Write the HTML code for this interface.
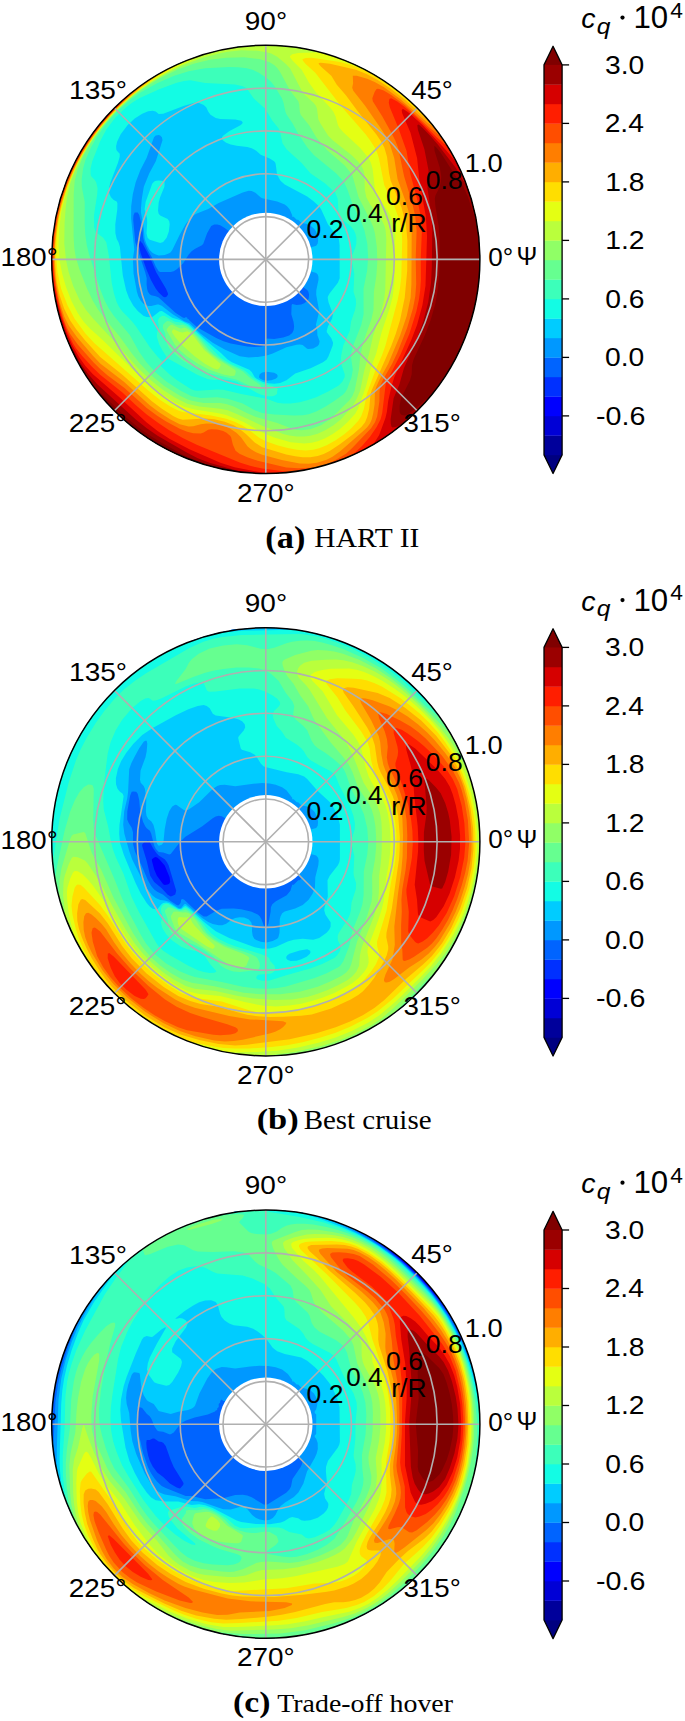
<!DOCTYPE html>
<html><head><meta charset="utf-8"><style>html,body{margin:0;padding:0;background:#fff;}svg{display:block;}</style></head>
<body><svg width="685" height="1721" viewBox="0 0 685 1721">
<rect width="685" height="1721" fill="#fff"/>
<clipPath id="cl0"><circle cx="265.8" cy="259.4" r="214.1"/></clipPath>
<g clip-path="url(#cl0)">
<circle cx="265.8" cy="259.4" r="216.1" fill="#0030ff"/>
<path fill="#0064ff" d="M47.7,41.3 482.7,41.3 482.7,476.3 47.7,476.3ZM139.2,240.8 138.8,245.3 140.7,253.3 146.7,270 151.2,280.4 155.7,288.6 158.7,292.5 163.2,296.7 164.7,297.3 166.2,297 168,294.8 167.9,293.3 166,288.8 156.2,272.3 149.9,257.3 142.2,243.1 141.1,242.3 140.7,241.2Z"/>
<path fill="#0098ff" d="M47.7,41.3 482.7,41.3 482.7,476.3 47.7,476.3ZM134.7,212.4 133.5,215.3 133.2,219.8 135.3,242.3 145.2,272.3 146.7,278.3 146.6,284.3 147.1,288.8 147.9,291.8 149.7,294.3 151.2,295.2 155.7,296.2 158.7,297.6 175.4,312.8 182.7,317.6 184.2,318.1 185.7,317.3 187.2,317.5 187.4,318.8 188.7,319.2 189.2,320.3 196.2,326.4 200.6,329.3 216.7,338.3 223.5,341.3 230.7,343.6 247.2,346.6 254.7,347.1 260.7,346.7 265,345.8 265.8,344.3 265.9,339.8 266.7,338.6 274.2,339 283.2,337.6 289.2,335.6 292.2,333.1 293.7,330 294.1,326.3 293.5,321.8 291.3,314.3 291.6,305.3 292.2,304 296.7,304.9 301.2,304.5 304.2,303.2 307.2,301.1 308.7,298.4 309.1,294.8 308.4,291.8 307.2,290.1 269.7,262.5 266.7,259.7 265.2,259.5 260.7,255.3 224.7,227.9 220.2,225.2 217.2,224.4 214.2,224.5 211.2,226.1 207.1,233.3 203.3,243.8 201.9,245.3 194.7,249 191.6,251.3 188.7,254.5 183.2,263.3 176.8,269.3 173.7,271.3 170.7,272.1 160.2,272.1 158.7,271.2 155.7,266.6 151.8,257.3 147.6,249.8 144.3,242.3 143.2,237.8 142.3,227.3 139.2,215 137.7,212.6Z"/>
<path fill="#00ccff" d="M47.7,41.3 482.7,41.3 482.7,476.3 47.7,476.3ZM155.7,135.6 154,137.3 146.7,157.7 140.3,170.3 135.7,182.3 132.8,194.3 131.2,206.3 131.1,218.3 134.3,249.8 132.9,258.8 133.6,273.8 136.9,291.8 138.3,296.3 140.8,300.8 143.7,303.9 148.2,306 151.2,306 157.2,304.5 158.7,304.6 161.7,305.7 172.7,314.3 184.2,321.3 189.5,323.3 200.7,333.7 212.7,342.7 224.7,349.6 239.7,356.2 248.7,357.4 257.7,356.9 266.7,355.6 272.7,353.6 286.4,347.3 296.7,344.8 299.7,344.5 302.7,345 307.1,348.8 308.7,349.1 313.2,348.4 317.7,346 319,344.3 319.6,341.3 317.4,335.3 317.2,330.8 315.9,324.8 319.2,311.3 316.2,294.8 316.3,290.3 318.5,279.8 318.4,276.8 317.7,274.6 316.2,273.1 314.7,272.5 271.2,261 269.2,260.3 268,258.8 268.2,258.2 273.7,257.3 314.7,246.3 316.2,245.7 317.7,243.4 318.1,240.8 317.8,236.3 316.2,231.8 314.2,228.8 310.2,225.4 307.2,224 301.2,222.8 298.2,219.8 296.7,219.8 293.7,216.8 292.2,216.8 292.2,215.3 289.6,209.3 287,206.3 284.7,204.6 277.2,201.6 262.2,198.2 260.5,197.3 255.4,192.8 251.7,191 248.7,190.7 242.7,192.4 218.7,203.1 208.2,209 196.2,213.8 191.7,216.5 185.6,224.3 179.7,234.8 172.4,249.8 170.7,252.2 169.2,253.3 164.7,254.9 158.7,255.4 155.7,254.5 152.7,252.9 149.7,249.9 146.7,244.6 144.8,239.3 143.4,225.8 140.9,212.3 141,207.8 141.8,198.8 143.8,186.8 149.3,173.3 155.8,161.3 162.5,140.3 161.9,137.3 160.2,135.6 158.7,135.1ZM262.2,372.4 259.7,374.3 259,377.3 260.3,378.8 263.4,380.3 266.7,380.7 271.3,380.3 275.6,378.8 277.4,377.3 277.7,375.8 276.9,374.3 274.2,372.8 266.7,371.8Z"/>
<path fill="#13fce4" d="M47.7,41.3 482.7,41.3 482.7,476.3 47.7,476.3ZM194.7,102.7 184.2,105.7 163.2,113.8 158.7,114.1 155.7,111.5 152.7,110.7 148.2,111.3 142.2,113.7 134.7,118.6 127.5,125.3 120.7,134.3 117.1,141.8 116.1,146.3 116.3,149.3 116.9,150.8 119.7,153.7 119.7,156.8 118,162.8 110.5,182.3 109.2,187.2 108.9,191.3 109.6,194.3 111,197.3 113.7,200.1 116.7,201.5 117.4,203.3 117.3,209.3 115.3,224.3 115.4,233.3 116.7,238.9 118.5,242.3 119.9,246.8 122.8,275.3 126.1,290.3 128.9,297.8 133.2,305.5 138,311.3 143.7,315.9 146.7,317.1 151.2,317.3 152.7,316.7 159.7,311.3 161.7,311.1 163.2,311.7 172.2,317.8 179.7,320 188.7,324.5 205.2,339.7 221.2,353.3 227.3,359.3 231.9,362.3 249.3,369.8 251.7,372 254.8,377.3 256.7,378.8 262.5,381.8 268.2,383.2 274.2,383.8 280.2,382.9 286.5,380.3 295.2,373.5 310.6,368.3 323,362.3 326.7,359.6 328.5,356.3 332.6,345.8 333.1,342.8 331.3,338.3 326.8,332.3 326.7,330.8 328,326.3 332,318.8 333,314.3 328.5,302.3 327.7,297.8 328,296.3 329.7,293.3 337.9,282.8 339.7,278.3 339.6,245.3 338.9,239.3 337.3,236.3 327.9,224.3 321.1,209.3 319,206.3 313.2,201 307.2,196.6 284.7,184.5 280.5,180.8 277.1,174.8 275.7,164.3 275.3,162.8 274.1,161.3 269.7,158.6 260.7,154.8 256.2,150.7 251.7,148.3 247.2,147.1 236.7,145.8 230.7,144.5 226.2,142.8 222.8,140.3 221.9,138.8 222,137.3 223.1,135.8 229.1,131.3 240.4,125.3 242.2,123.8 242.7,122.3 241.2,120.8 235.2,119.4 220.2,119 215.7,118.1 210.5,114.8 208.3,111.8 206.2,107.3 203.7,105 199.2,103ZM156,180.8 158.7,180.5 163.2,180.9 164.6,182.3 164.4,186.8 160.1,197.3 158.7,202.4 158,210.8 158.7,213.8 160.2,215.6 167.7,218.9 169.2,221.3 169.7,224.3 168.8,231.8 166.6,237.8 163.2,242 160.2,243 149.7,239.8 147.6,237.8 146.5,233.3 147.2,222.8 147,218.3 144.6,209.3 145.7,201.8 152.2,183.8 154.2,181.6Z"/>
<path fill="#3cffba" d="M47.7,41.3 482.7,41.3 482.7,476.3 47.7,476.3ZM190.2,80.3 184.2,80.9 176.7,82.7 159.2,89.3 139.3,98.3 132.1,102.8 126.1,107.3 115.2,117.8 106.2,129.8 100.2,141.3 92.3,161.3 90.5,168.8 90.7,174.8 91.2,176.2 94.2,179.3 96.2,182.3 97.6,188.3 97.2,194.3 94,215.3 94.2,227.3 95.7,232.1 103.2,237.7 106.3,242.3 108.9,255.8 111.7,282.8 113.9,293.3 116.7,302.3 119,306.8 122.2,311.3 131.7,321.1 135.9,326.3 149.7,347.1 157.2,356.3 163.2,362.3 160.2,365.2 161.5,366.8 169.3,374.3 176.7,380.1 191.1,389.3 194.7,390.5 197.7,390.7 217.2,389.4 223.2,389.8 241.2,394 266.7,398.8 277.2,402.7 283.2,403.6 290.7,403.6 299.7,402.3 307.2,400.3 316.2,397.2 328.2,391.6 338.7,385.4 342.3,381.8 344.6,377.3 344.7,374.3 340.6,362.3 341.3,354.8 343.2,345.8 349.8,330.8 351,321.8 355.1,309.8 356.1,303.8 355.8,299.3 353.5,291.8 354.3,273.8 351.5,258.8 352.2,255.2 355.1,248.3 356.3,243.8 356.4,237.8 355.3,233.3 353.7,230.1 350.7,226.2 342.7,219.8 340.1,216.8 338.5,212.3 337.7,198.8 335.2,192.8 325.2,183.5 310.4,173.3 301.4,162.8 286.5,149.3 282.5,143.3 279.9,131.3 278.5,128.3 272.4,120.8 265.2,108.8 253.6,98.3 247.2,89.1 245.8,87.8 242.7,86.3 235.2,84.5 205.2,82.9ZM162.6,315.8 164.7,316 174.8,321.8 181.2,322.4 187.2,325.1 194,330.8 220.6,357.8 230.4,363.8 243.6,369.8 247.2,372.4 252.3,377.3 257.7,380.9 263.7,383.7 273,386.3 276.3,387.8 278.1,389.3 277.2,390.8 277.1,393.8 275.3,395.3 272.7,396.2 266.7,396.2 260.7,394.6 257.7,393.3 236.7,381.7 230.6,380.3 221.7,379.2 214.2,380.1 208.2,379.3 197.7,374.9 166.6,357.8 166.2,356.3 162.3,350.3 159.1,344.3 156.8,336.8 157.1,332.3 158.9,327.8 157.9,320.3 159.6,317.3Z"/>
<path fill="#66ff90" d="M47.7,41.3 482.7,41.3 482.7,476.3 47.7,476.3ZM205.2,68.2 188.7,71.3 174.2,75.8 157.1,83.3 141,92.3 130.2,99.9 116.7,111.8 106.2,123.8 97.2,136.5 91.2,147 85.5,159.8 83.1,168.8 81.7,179.3 81.8,186.8 84.7,201.8 84.7,224.3 85.3,234.8 86.8,245.3 89,254.3 100.6,290.3 104.8,300.8 108.7,308.3 113.8,315.8 130,335.3 139.1,351.8 146.4,362.3 155.7,372.6 166.7,381.8 180.7,390.8 191.7,396.2 200.7,398 217.2,397.3 227.7,398.7 242.7,403.6 254.8,410.3 262.2,413 274.2,414.4 293.7,415.5 302.7,415.3 308.7,414.2 316.2,411.4 325.2,406.8 334.2,401.1 343.2,394.4 345.2,392.3 347,389.3 351.5,377.3 352.8,369.8 351.1,357.8 351.4,351.8 353.1,345.8 361.3,324.8 363.6,314.3 363.5,288.8 367.1,270.8 368.1,257.3 367.3,243.8 364.4,230.3 359.8,218.3 352.7,204.8 347.5,189.8 344.7,183.6 341.6,179.3 336,173.3 314.1,155.3 307.5,147.8 298.4,134.3 292.8,123.8 286.7,114.8 285.4,111.8 283.5,102.8 281.9,98.3 274.6,86.3 271,81.8 266.7,78 258.8,72.8 253.2,70.1 246.8,68.3 238.2,67.2 229.2,66.9ZM165.9,321.8 167.7,321.1 169.2,321.2 176.7,324.9 179.7,325.3 182.7,324.8 185.7,325.9 188.7,327.8 199.6,338.3 209.3,350.3 214,354.8 224.9,362.3 242.8,371.3 250.2,377.9 260.1,384.8 261.3,386.3 260.7,388.8 259.1,389.3 253.7,387.8 236.7,379.7 209.7,373.2 202.2,370.9 190.5,365.3 181.2,359.4 172.2,351.6 169.2,347.9 167.2,344.3 166.2,341.3 165.3,333.8 162.8,327.8 163.1,324.8Z"/>
<path fill="#90ff66" d="M47.7,41.3 482.7,41.3 482.7,476.3 47.7,476.3ZM226.2,57.7 209.7,59.8 193.5,63.8 177.3,69.8 158.7,78.9 142.1,89.3 128.5,99.8 113.7,113.9 100.2,129.6 89.7,144.7 83.7,155.3 77.7,169.4 74.7,180.7 73.7,194.3 73.6,236.3 74.3,248.3 75.8,257.3 79.4,269.3 87.1,288.8 92.8,300.8 98.2,309.8 104.9,318.8 119.8,336.8 131.7,353.3 140.1,363.8 151.7,375.8 164.6,386.3 179.1,395.3 187.2,399.2 191.7,400.7 203.7,402.9 220.2,403.1 226.2,404 233.7,406.5 247.3,413.3 256.2,417.1 277.2,423 292.2,428.8 296.1,429.8 301.2,430.2 310.2,429.3 321,425.3 330.2,419.3 349.2,400.6 352.2,396.4 354.6,390.8 358.9,369.8 360.3,356.3 362.1,347.3 364.6,338.3 371.6,318.8 373.5,309.8 373.9,291.8 376.4,275.3 377.3,261.8 376.8,246.8 374.9,233.3 373.3,227.3 370.8,221.3 358.6,197.3 352.2,174.8 345,165.8 326.7,149.7 316.2,137.3 309.1,125.3 300.7,114.8 299.8,111.8 299.2,104.3 298.3,101.3 290.2,90.8 280.5,72.8 277.5,68.3 274.5,65.3 269.7,62.3 259.2,59.1 244.2,57.3ZM168.9,326.3 170.7,325 172.2,324.8 179.7,328.2 181.2,328.4 184.2,327.6 185.7,327.9 190.2,330.6 196.4,336.8 205.6,348.8 210.2,353.3 218.7,359.8 234.9,369.8 235.8,371.3 235.3,374.3 234.4,375.8 230.7,376.1 223.2,374.5 208.2,369.3 197.9,363.8 186.8,356.3 178.1,348.8 174.5,344.3 166.8,330.8 166.7,329.3Z"/>
<path fill="#baff3c" d="M47.7,41.3 482.7,41.3 482.7,476.3 47.7,476.3ZM241.2,50.3 227.7,51.8 220.2,53.2 203,57.8 182.9,65.3 164.7,74.2 149.6,83.3 133.1,95.3 116.7,110.1 103.2,125 92.7,139.1 83.7,153.6 74.7,171.6 70.2,183.7 67.1,197.3 65.7,207.8 64.6,222.8 64.3,243.8 66.1,260.3 68.7,272.3 73.2,286.1 79.2,299.3 85.8,309.8 93.3,318.8 113.7,340.8 138.1,368.3 150.8,380.3 163.2,390.1 175.2,397.8 187.2,403.7 199.2,406.6 220.2,408.7 227.7,410.3 236.7,413.9 262.2,425.7 283.2,433.9 289.2,435.4 296.7,436.5 304.2,436.5 310.2,435.8 317.7,433.7 325.2,430.3 333.5,425.3 341,419.3 352.2,406.7 356.7,398.8 360.1,390.8 364.1,371.3 369.2,353.3 373.2,335.3 381.4,311.3 384.2,299.3 385.2,290.3 385.5,279.8 386.3,239.3 385.6,230.3 384.5,225.8 382.2,220.9 370.2,204.4 366.3,197.3 364.8,189.8 364.5,174.8 363.5,170.3 361.4,165.8 357.7,161.3 351.7,155.3 332.7,140.3 328.2,135.7 320.6,123.8 318.3,119.3 317,108.8 315.9,105.8 313.5,102.8 305.2,95.3 302.5,92.3 290,68.3 285.6,63.8 277.2,56.8 271.2,53.4 266.7,52.2 257.7,50.7ZM173.7,329.3 179.7,331.9 182.7,332.6 187.2,331.2 190.2,332.8 194.1,336.8 204.5,350.3 220.5,363.8 220.7,365.3 219.3,368.3 217.2,369.4 213.1,368.3 204.9,363.8 194.6,356.3 181.2,344.3 175.2,337.3 171.9,332.3 172.1,330.8Z"/>
<path fill="#e4ff13" d="M47.7,41.3 207.4,41.3 210.2,51.8 208.9,53.3 206.7,53.7 205.1,54.8 202.2,55.6 187.2,61.9 169.2,70.7 151.2,81.4 136.2,92.2 122.2,104.3 108.9,117.8 95.7,134.1 86.7,147.6 77.7,163.8 70.2,180.9 65.7,194.1 61.2,212.3 59.2,228.8 58.5,245.3 59.7,261.2 62.2,273.8 66.1,287.3 71.7,301.5 77.7,313.1 83.7,321.7 89.7,328.3 103.2,340.4 136.1,372.8 151.2,386 161.7,394.1 173.7,401.7 184.2,406.8 194.7,409.5 217.2,413 226.2,415 244.2,422.2 263.7,433.3 274.2,437.6 290.7,442.2 304.2,443.5 311.7,442.8 317.7,441.2 325.2,438.2 332.7,434.1 340.2,428.7 347.7,421.9 355.2,413.7 358,408.8 366,386.3 370.7,368.3 376.3,353.3 381.6,332.3 389.6,308.3 392.7,296.4 394.5,281.3 394.3,258.8 395.3,236.3 394.3,227.3 391.2,217.8 387.6,210.8 378.4,197.3 375.9,192.8 374.8,188.3 372.6,168.8 370.9,162.8 368.7,158.3 360,147.8 343.8,132.8 339.7,128.3 338,125.3 335.5,116.3 333.4,111.8 329.9,107.3 315.8,92.3 308.7,82.3 301.7,69.8 292.7,60.8 290.3,57.8 289.9,56.3 292.2,54.3 298.2,52.9 320.7,52.2 321.4,51.8 324.2,41.3 482.7,41.3 482.7,476.3 47.7,476.3Z"/>
<path fill="#ffde00" d="M47.7,41.3 168.4,41.3 178.3,63.8 176.6,65.3 157.2,76.6 142.2,87.1 125.7,100.6 110.7,115.3 98.5,129.8 88,144.8 77.7,162.8 70.2,179.5 64.2,196.9 59.6,215.3 56.7,235 56.2,257.3 57.5,272.3 61.2,289.1 67.5,305.3 74.6,318.8 85.2,333.3 94.2,342.9 148.2,390.6 160.2,399.9 170.7,406.7 178.2,410.5 182.7,412 211.2,415.5 226.2,418.8 235.2,422.1 242.7,425.8 246.7,428.3 259.2,437.8 265.2,441.1 277.2,445.3 287.7,448.1 296.7,449.7 305.7,450.4 313.2,449.8 319.2,448.2 326.7,445.2 335.7,440.3 344.3,434.3 351.3,428.3 358.3,420.8 361.2,416.2 363.9,408.8 366.9,393.8 375.1,371.3 382.2,354.8 385.4,345.8 397.5,300.8 399.9,288.8 401.3,276.8 402.2,240.8 401.6,230.3 399.2,219.8 394.2,205.7 384.3,185.3 378.9,158.3 377,152.3 374.9,147.8 370.2,140.4 365.6,134.3 340.8,105.8 315.3,72.8 305.4,63.8 303,60.8 302.4,59.3 305.7,57.9 311.7,57.8 340.2,61.9 350.7,64.9 368.7,71.8 370,72.8 373.2,73.3 391.7,41.3 482.7,41.3 482.7,476.3 47.7,476.3Z"/>
<path fill="#ffae00" d="M47.7,41.3 139.9,41.3 158.1,72.8 158.3,74.3 157.2,74.7 154.5,77.3 139.2,88.7 127.2,98.7 115,110.3 102.8,123.8 92.6,137.3 82.1,153.8 74.3,168.8 66.9,186.8 61.1,206.3 57.9,221.3 55.2,244.9 55,261.8 56.7,281.5 59.7,295.6 64.2,308.8 70.2,320.6 76.2,329.3 85.2,340.6 100.2,356.9 122.7,374.9 151.9,401.3 161.9,408.8 173.6,416.3 178.2,418.6 182.7,419.7 205.2,418.4 214.2,419.3 224.7,421.7 233.7,425.3 238.7,428.3 246.2,434.3 254.7,442.6 262.2,447.2 286.2,454.4 295.2,456.3 302.7,457.2 310.2,457.2 317.7,456.1 323.7,454.1 329.7,451.1 340.2,444.1 353.1,434.3 361.6,426.8 365.1,422.3 367.2,417.1 369.2,408.8 370.4,395.3 371.5,390.8 391.2,346 395.7,334 400,320.3 404.7,297.7 407.2,270.8 407.4,240.8 406,224.3 401.6,207.8 390.7,180.8 389.1,173.3 387,156.8 384.4,147.8 381.3,141.8 376.2,134.2 358.1,111.8 345.9,95.3 336.8,84.8 331.3,75.8 321.1,66.8 318.5,63.8 319.2,63 320.7,62.7 330,63.8 356,69.8 367.1,74.3 377.7,80.1 391.2,89 404.7,99.6 421.2,114.2 424.2,116.4 425.7,116.5 482.7,65.7 482.7,476.3 47.7,476.3Z"/>
<path fill="#ff7e00" d="M47.7,41.3 120.1,41.3 146.1,80.3 146.5,81.8 131.7,94.3 116.7,108.1 104.9,120.8 95.3,132.8 86.1,146.3 76.8,162.8 69.9,177.8 63.9,194.3 59.4,210.8 56.1,228.8 54.6,245.3 54.4,263.3 55.1,275.3 56.5,285.8 59.7,302.2 64.2,316.4 68.7,325.6 76.7,336.8 92.7,355.6 100.2,363.5 124.2,382.1 149.7,405.2 158.7,411.9 170,419.3 179.7,424.2 188.7,426.5 193.2,426.3 200.7,424.2 206.7,423.4 215.7,423.8 223.2,425.4 229.2,428 236.4,432.8 241,437.3 247.4,446.3 250.9,449.3 256,452.3 262.2,454.7 281.7,460.1 299.7,463.6 308.7,463.8 317,462.8 326.6,459.8 332.5,456.8 340.2,451.3 362.7,431.6 367.2,427.2 369.8,423.8 371.8,419.3 373.2,413.2 374.6,404.3 374.9,392.3 375.9,387.8 379.2,380.3 388.2,363.8 400.2,335.2 406.8,315.8 410.6,297.8 411.4,284.3 411.7,233.3 410.9,222.8 408.8,212.3 405.7,201.8 397.6,179.3 394.2,158 390,144.8 386.4,137.3 380.7,128.2 365.1,105.8 353.3,90.8 352.2,87.8 353.1,83.3 352.8,75.8 356.7,75.8 367.2,78.8 374.7,82 383.7,87.1 400.2,98.9 427.2,122.6 433.2,126.7 482.7,87.9 482.7,476.3 47.7,476.3Z"/>
<path fill="#ff4e00" d="M47.7,41.3 104,41.3 137.7,86.7 137.8,87.8 121.2,103.2 109.7,114.8 99.4,126.8 90.5,138.8 80.3,155.3 72.6,170.3 66.4,185.3 60.6,203.3 57.5,216.8 54.6,236.3 53.6,255.8 54.2,272.3 56.4,290.3 59.7,305.7 64.2,320.7 67.2,328.3 70.2,334.1 77.7,344.6 93.4,362.3 100.2,369.1 107.7,375.4 124.2,387.8 146.7,407.9 157.2,415.7 166.2,421.6 179.7,428.8 187.2,431.7 193.2,433.3 200.7,433.5 203.7,432.5 208.1,429.8 211.2,429.2 217.2,429.4 223.2,431.1 226.5,432.8 230.1,435.8 231.1,437.3 232.9,444.8 235.6,450.8 239.5,453.8 247.2,457.2 257.7,460.7 286.2,467.5 298.2,468.3 320.7,467.3 322.2,466.5 322.3,465.8 325.2,465.3 326,464.3 328.2,463.7 337.2,459.1 346,453.8 352.2,448.1 371.1,428.3 375,422.3 377.2,416.3 379.4,401.3 379.6,390.8 380.7,384.8 382.7,380.3 392.1,363.8 397.2,353.1 407.2,327.8 413,308.3 415.3,296.3 416.2,284.3 415.7,258.8 416.6,230.3 415.2,216 412.2,203 404.1,176.3 398.1,147.8 395.2,140.3 391.2,132.5 382.2,116.3 372.8,101.3 372.3,98.3 374.5,92.3 376.3,89.3 377.7,88.7 379.2,88.9 383.7,90.6 391.2,95 404.7,105 430.2,128.2 439.2,135.2 440.7,135.1 482.7,105.3 482.7,476.3 47.7,476.3Z"/>
<path fill="#ff1e00" d="M47.7,41.3 86.2,41.3 129.4,93.8 128.7,95.3 113.3,110.3 102.4,122.3 92,135.8 83.1,149.3 75.6,162.8 67.9,179.3 61.9,195.8 57.4,212.3 54.6,228.8 53,246.8 53,264.8 54.6,282.8 57.8,300.8 62.2,317.3 67.2,331.3 73.2,343.8 76.2,348.5 82.2,356 92,366.8 100.2,374.7 122.7,392.8 136.2,405.5 146.7,414.4 158.7,423.3 169.2,430.2 182.7,437.9 196.7,444.8 239.7,462.4 250,465.8 262.2,468.6 287.5,471.8 288.5,473.3 288.8,476.3 47.7,476.3ZM389.2,99.8 389.7,98.7 391.2,98.3 397.2,101.6 404.7,107.1 416.7,117.6 436.2,136.7 443.7,143.4 446.7,145.2 482.7,122.8 482.7,476.3 361.1,476.3 352,455.3 361.8,446.3 370.2,436.6 376.8,426.8 380.6,419.3 382.2,413.3 385.8,383.3 400.4,354.8 409.4,333.8 416.4,311.3 419,299.3 420.2,290.3 420.9,279.8 420.8,257.3 421.8,233.3 421.5,224.3 420.5,215.3 417.8,201.8 410.2,173.3 406.5,150.8 397.9,126.8 389.8,107.3 388.8,102.8Z"/>
<path fill="#d60000" d="M402.9,108.8 409.6,113.3 422.7,125.3 445.2,149.3 455.7,161.6 457.2,161.7 482.7,148.7 482.7,476.3 391,476.3 373,444.8 379.2,435.1 385.5,417.8 386.9,411.8 388.2,400.9 391.5,386.3 394.3,377.3 411.4,339.8 417.1,324.8 422.4,305.3 425.5,285.8 427,236.3 425.9,216.8 419.6,182.3 417.1,158.3 410.5,132.8 402.2,113.3 401.7,110.3ZM47.7,260.3 47.7,259.4 50.7,259.4 52.2,266.4 52.8,278.3 56.2,297.8 60.8,315.8 66.5,332.3 72.6,345.8 79.2,357.3 85.2,365.7 92.7,373.9 119.7,397.4 146.4,422.3 157.9,431.3 169.4,438.8 189.4,449.3 220.4,462.8 234.6,467.3 265.7,473.3 265.8,476.3 47.7,476.3Z"/>
<path fill="#9b0000" d="M417.3,125.3 418.2,124.6 419.7,125.3 422.7,128 430.2,135.7 438,144.8 455.7,167.8 466.2,185.5 467.7,186.5 482.7,181.1 482.7,476.3 443.8,476.3 401.9,425.3 400.2,425.2 395.7,427 392.7,427.6 391.5,426.8 390.8,423.8 390.6,419.3 393.6,398.3 399.3,384.8 403.9,368.3 417.1,338.3 423.1,321.8 428.2,302.3 431,282.8 431.8,267.8 432.3,230.3 431.5,216.8 427.5,188.3 428.5,170.3 424.4,149.3 417.9,129.8ZM55.3,315.8 58.2,315 58.4,315.8 59.7,316.9 60.2,320.3 61.2,321.3 61.9,324.8 62.7,325.7 64.8,332.3 70.8,345.8 79.9,362.3 88.2,374.1 97.2,384.2 135.5,419.3 146.8,428.3 157.6,435.8 187.2,452.8 197.8,458.3 209.4,462.8 241.2,471.8 240.9,476.3 47.7,476.3 47.7,317.8Z"/>
<path fill="#800000" d="M434.3,146.3 434.7,146.1 436.2,147.3 440.7,152.8 457.2,178.4 463.2,186.2 468.1,197.3 476.7,223.8 482.7,223.1 482.7,436.8 431.7,395.2 428.7,396.7 415.2,408.8 407.7,414.4 404.7,415.4 401.7,414.9 400.2,413.5 399.6,411.8 399.6,405.8 401,398.3 410,380.3 411.7,374.3 412,365.3 413.6,359.3 424.8,335.3 430.6,320.3 435.3,303.8 437.9,288.8 439.5,269.3 439.6,239.3 438.6,225.8 435.4,206.3 434.8,198.8 435.3,195.8 439.8,186.8 441,180.8 441.2,176.3 439.7,167.3 434.5,150.8ZM92.7,387.8 94.2,387.3 95.7,388.3 126.5,417.8 137.7,427 148.2,434.5 160.2,442 182.7,454.5 199.2,462 205.9,464.3 206.7,465.1 209.8,465.8 210.1,467.3 207.7,476.3 47.7,476.3 47.7,421.2Z"/>
</g>
<circle cx="265.8" cy="259.4" r="46.7" fill="#fff"/>
<g fill="none" stroke="#b0b0b0" stroke-width="1.6"><circle cx="265.8" cy="259.4" r="42.8"/><circle cx="265.8" cy="259.4" r="85.6"/><circle cx="265.8" cy="259.4" r="128.5"/><circle cx="265.8" cy="259.4" r="171.3"/><line x1="265.8" y1="259.4" x2="479.9" y2="259.4"/><line x1="265.8" y1="259.4" x2="417.2" y2="108.0"/><line x1="265.8" y1="259.4" x2="265.8" y2="45.3"/><line x1="265.8" y1="259.4" x2="114.4" y2="108.0"/><line x1="265.8" y1="259.4" x2="51.7" y2="259.4"/><line x1="265.8" y1="259.4" x2="114.4" y2="410.8"/><line x1="265.8" y1="259.4" x2="265.8" y2="473.5"/><line x1="265.8" y1="259.4" x2="417.2" y2="410.8"/></g>
<circle cx="265.8" cy="259.4" r="214.1" fill="none" stroke="#000" stroke-width="1.5"/>
<g fill="#000"><text transform="translate(244.74,29.64) scale(1.167,1.040)" font-family="Liberation Sans" font-size="24">90°</text><text transform="translate(69.06,98.74) scale(1.168,1.040)" font-family="Liberation Sans" font-size="24">135°</text><text transform="translate(411.18,98.54) scale(1.149,1.040)" font-family="Liberation Sans" font-size="24">45°</text><text transform="translate(0.59,266.24) scale(1.151,1.040)" font-family="Liberation Sans" font-size="24">180°</text><text transform="translate(488.31,265.74) scale(1.088,1.040)" font-family="Liberation Sans" font-size="24">0°</text><text transform="translate(516.49,265.30) scale(1.036,1.040)" font-family="Liberation Sans" font-size="24">Ψ</text><text transform="translate(68.85,432.44) scale(1.160,1.040)" font-family="Liberation Sans" font-size="24">225°</text><text transform="translate(237.05,501.54) scale(1.162,1.040)" font-family="Liberation Sans" font-size="24">270°</text><text transform="translate(403.44,432.44) scale(1.156,1.040)" font-family="Liberation Sans" font-size="24">315°</text><text transform="translate(306.60,238.04) scale(1.104,1.040)" font-family="Liberation Sans" font-size="24">0.2</text><text transform="translate(346.36,221.54) scale(1.087,1.040)" font-family="Liberation Sans" font-size="24">0.4</text><text transform="translate(386.10,205.04) scale(1.104,1.040)" font-family="Liberation Sans" font-size="24">0.6</text><text transform="translate(425.85,188.54) scale(1.104,1.040)" font-family="Liberation Sans" font-size="24">0.8</text><text transform="translate(464.71,172.04) scale(1.138,1.040)" font-family="Liberation Sans" font-size="24">1.0</text><text transform="translate(391.25,232.34) scale(1.101,1.040)" font-family="Liberation Sans" font-size="24">r/R</text></g>
<path d="M544.0,66.4 L544.0,64.9 L553.05,46.3 L562.1,64.9 L562.1,66.4Z" fill="#800000"/>
<path d="M544.0,453.4 L544.0,454.9 L553.05,473.5 L562.1,454.9 L562.1,453.4Z" fill="#000080"/>
<rect x="544.0" y="435.40" width="18.1" height="19.80" fill="#00009b"/>
<rect x="544.0" y="415.90" width="18.1" height="19.80" fill="#0000d6"/>
<rect x="544.0" y="396.40" width="18.1" height="19.80" fill="#0000ff"/>
<rect x="544.0" y="376.90" width="18.1" height="19.80" fill="#0030ff"/>
<rect x="544.0" y="357.40" width="18.1" height="19.80" fill="#0064ff"/>
<rect x="544.0" y="337.90" width="18.1" height="19.80" fill="#0098ff"/>
<rect x="544.0" y="318.40" width="18.1" height="19.80" fill="#00ccff"/>
<rect x="544.0" y="298.90" width="18.1" height="19.80" fill="#13fce4"/>
<rect x="544.0" y="279.40" width="18.1" height="19.80" fill="#3cffba"/>
<rect x="544.0" y="259.90" width="18.1" height="19.80" fill="#66ff90"/>
<rect x="544.0" y="240.40" width="18.1" height="19.80" fill="#90ff66"/>
<rect x="544.0" y="220.90" width="18.1" height="19.80" fill="#baff3c"/>
<rect x="544.0" y="201.40" width="18.1" height="19.80" fill="#e4ff13"/>
<rect x="544.0" y="181.90" width="18.1" height="19.80" fill="#ffde00"/>
<rect x="544.0" y="162.40" width="18.1" height="19.80" fill="#ffae00"/>
<rect x="544.0" y="142.90" width="18.1" height="19.80" fill="#ff7e00"/>
<rect x="544.0" y="123.40" width="18.1" height="19.80" fill="#ff4e00"/>
<rect x="544.0" y="103.90" width="18.1" height="19.80" fill="#ff1e00"/>
<rect x="544.0" y="84.40" width="18.1" height="19.80" fill="#d60000"/>
<rect x="544.0" y="64.90" width="18.1" height="19.80" fill="#9b0000"/>
<path d="M544.0,64.9 L553.05,46.3 L562.1,64.9 L562.1,454.9 L553.05,473.5 L544.0,454.9Z" fill="none" stroke="#000" stroke-width="1.3" stroke-linejoin="round"/>
<line x1="562.1" y1="64.9" x2="569.1" y2="64.9" stroke="#000" stroke-width="1.3"/>
<line x1="562.1" y1="123.4" x2="569.1" y2="123.4" stroke="#000" stroke-width="1.3"/>
<line x1="562.1" y1="181.9" x2="569.1" y2="181.9" stroke="#000" stroke-width="1.3"/>
<line x1="562.1" y1="240.4" x2="569.1" y2="240.4" stroke="#000" stroke-width="1.3"/>
<line x1="562.1" y1="298.9" x2="569.1" y2="298.9" stroke="#000" stroke-width="1.3"/>
<line x1="562.1" y1="357.4" x2="569.1" y2="357.4" stroke="#000" stroke-width="1.3"/>
<line x1="562.1" y1="415.9" x2="569.1" y2="415.9" stroke="#000" stroke-width="1.3"/>
<g fill="#000"><text transform="translate(604.92,73.54) scale(1.178,1.040)" font-family="Liberation Sans" font-size="24">3.0</text><text transform="translate(604.63,132.30) scale(1.178,1.040)" font-family="Liberation Sans" font-size="24">2.4</text><text transform="translate(605.22,190.54) scale(1.178,1.040)" font-family="Liberation Sans" font-size="24">1.8</text><text transform="translate(605.22,249.30) scale(1.178,1.040)" font-family="Liberation Sans" font-size="24">1.2</text><text transform="translate(605.22,307.54) scale(1.178,1.040)" font-family="Liberation Sans" font-size="24">0.6</text><text transform="translate(604.92,366.04) scale(1.178,1.040)" font-family="Liberation Sans" font-size="24">0.0</text><text transform="translate(596.01,424.54) scale(1.195,1.040)" font-family="Liberation Sans" font-size="24">-0.6</text></g>
<g fill="#000"><text transform="translate(581.15,28.27) scale(0.953,0.929)" font-family="Liberation Sans" font-size="30" font-style="italic">c</text><text transform="translate(596.82,33.69) scale(1.172,1.084)" font-family="Liberation Sans" font-size="21" font-style="italic">q</text><text transform="translate(633.46,28.24) scale(1.040,1.026)" font-family="Liberation Sans" font-size="30">10</text><text transform="translate(670.16,17.60) scale(1.086,1.041)" font-family="Liberation Sans" font-size="21">4</text></g>
<circle cx="622.5" cy="17.6" r="2.1" fill="#000"/>
<g fill="#000"><text transform="translate(265.35,547.64) scale(1.318,1.230)" font-family="Liberation Serif" font-size="26" font-weight="bold">(a)</text><text transform="translate(314.35,547.00) scale(1.135,1.014)" font-family="Liberation Serif" font-size="26">HART II</text></g>
<clipPath id="cl1"><circle cx="265.8" cy="841.8" r="214.1"/></clipPath>
<g clip-path="url(#cl1)">
<circle cx="265.8" cy="841.8" r="216.1" fill="#0000ff"/>
<path fill="#0030ff" d="M47.7,623.7 482.7,623.7 482.7,1058.7 47.7,1058.7ZM154.2,857.4 151.9,859.2 151.9,860.7 154.2,869.5 156.9,875.7 163.2,884.3 164.7,884.9 167.7,884.4 169.2,883.7 170.2,881.7 169.6,877.2 164.7,865.6 159.3,859.2 157.2,857.5 155.7,856.9Z"/>
<path fill="#0064ff" d="M47.7,623.7 482.7,623.7 482.7,1058.7 47.7,1058.7ZM148.2,840.5 145.2,841.5 143.7,842.7 142.3,844.2 142.1,845.7 146.7,860.7 150.2,875.7 154.2,882.1 161.7,888.3 167.7,894.7 170.7,896.4 172.2,895.9 175.2,894.4 176.2,890.7 168.6,865.2 167,862.2 164.7,859.3 158.7,855.4 156.6,853.2 153.4,848.7 149.7,841.9Z"/>
<path fill="#0098ff" d="M47.7,623.7 482.7,623.7 482.7,1058.7 47.7,1058.7ZM133.2,791.4 131.7,791.8 130.2,795.4 127.3,811.2 127.2,819.4 128.7,823 131.7,827.7 133,832.2 133.1,844.2 135,851.7 140.7,863.4 147.9,880.2 151.2,885.9 154.2,889.5 157.2,891.7 163.2,894.7 170.9,901.2 176.7,905.1 178.2,905.4 179.7,904.2 180.6,902.7 181.2,899.6 182.7,899 184.2,899.8 197,911.7 203.7,916.5 206.7,916.5 215.7,910.9 221.7,908.8 233.7,908.6 241.2,909.3 251.7,911.8 258.1,914.7 259.7,916.2 261.5,919.2 263.7,925.3 265.2,927.2 266.7,927 268.4,923.7 270.6,911.7 270.9,907.2 272.3,904.2 275.9,901.2 286.7,895.2 290.4,890.7 292.2,884.7 293.7,884.7 298.2,880.2 299.7,880.2 301.2,878.7 268.2,845.7 268.2,844.2 263.7,840.5 221.7,816.3 218.7,815.7 215.7,816.6 212.7,818.2 202.3,826.2 185.4,836.7 180.7,841.2 170.7,854 169.2,854.6 163.2,852.5 158.7,852.1 155.7,848.8 154.2,845.7 151.2,833.7 149.9,830.7 146.7,828.2 145.2,826.3 143,821.7 140.2,811.2 139.2,800.1 137.7,793.8 136.2,791.8Z"/>
<path fill="#00ccff" d="M47.7,623.7 482.7,623.7 482.7,1058.7 47.7,1058.7ZM143.7,741.8 139.2,748.3 134.7,756.4 131.3,763.2 129.2,769.2 128.1,791.7 127.2,798.5 124.2,811.3 123.2,824.7 124.4,833.7 129,850.2 132.1,859.2 144.1,883.2 148.6,890.7 152.2,895.2 155.7,898.1 160.2,899.9 164.7,900.5 169.2,901.8 178.2,908 179.7,908.4 181.2,907.9 184.2,904.2 185.7,903.9 202.2,918.1 208.2,922.1 212.7,924.1 218.7,925.3 222.2,925.2 226.2,923.7 232.3,919.2 235.2,918 239.7,917.2 244.2,917.5 248.5,919.2 251.2,922.2 252.1,925.2 252,931.2 252.7,935.7 254.2,938.7 256.2,940.1 260.7,941.8 266.7,942.4 272.7,941.1 277.2,938.7 278.4,937.2 279.5,932.7 279.8,919.2 280.6,916.2 282.2,913.2 284.7,911.5 295.2,908.4 302.7,904.9 308.6,899.7 312.5,893.7 314.9,887.7 315.3,877.2 318.3,865.2 318.7,860.7 318.1,857.7 316.2,855.4 271.2,843.3 269.3,842.7 268,841.2 268.2,840.6 273.7,839.7 316.2,828.1 317.7,825.7 318.1,821.7 317.2,817.2 314.7,812.1 310.2,807.8 307.2,806.4 301.2,805.2 298.2,802.2 296.7,802.2 293.7,799.2 292.2,799.2 292.2,797.7 286.4,790.2 282.1,787.2 275.7,784.8 269.7,783.5 262.2,783.1 253.2,783.7 235.2,786.2 224.7,784.7 220.2,785 217.2,786.1 213,788.7 199.2,802.3 188.7,809.5 185.7,810.4 184.2,810.2 176.7,804.9 175.2,804.8 172.2,806.6 169.2,811.2 166.7,818.7 164.7,829.2 163.4,842.7 161.7,844.8 158.7,845.7 157.2,844.1 156.8,842.7 155,830.7 153.4,824.7 151.2,821.2 148.2,819.1 146.5,815.7 145.9,811.2 146.3,799.2 144.9,788.7 143.7,786 140.7,782.8 140,779.7 140.5,770.7 145.5,757.2 146.7,751.2 147.3,743.7 146.7,740.8 145.2,740.8Z"/>
<path fill="#13fce4" d="M294.5,623.7 482.7,623.7 482.7,1058.7 47.7,1058.7 47.7,782.7 50.7,782.7 52.2,784.2 55.2,784.2 56.7,785.7 58.2,785.7 58.2,784.2 59.7,782.7 59.7,779.7 61.2,778.2 61.2,775.2 62.7,773.7 62.7,770.7 64.2,769.2 64.2,766.2 65.7,764.7 65.7,763.2 67.2,761.7 67.2,758.7 68.7,757.2 68.7,755.7 70.2,754.2 70.2,752.7 71.7,751.2 71.7,749.7 73.2,748.2 73.2,746.7 74.7,745.2 74.7,743.7 76.2,742.2 76.2,740.7 77.7,739.2 77.7,737.7 79.2,736.2 79.2,734.7 80.7,733.2 80.7,731.7 83.7,728.7 83.7,727.2 86.7,724.2 86.7,722.7 89.7,719.7 89.7,718.2 94.2,713.7 94.2,712.2 98.7,707.7 98.7,706.2 110.7,694.2 110.7,692.7 116.7,686.7 118.2,686.7 130.2,674.7 131.7,674.7 136.2,670.2 137.7,670.2 142.2,665.7 143.7,665.7 146.7,662.7 148.2,662.7 151.2,659.7 152.7,659.7 155.7,656.7 157.2,656.7 158.7,655.2 160.2,655.2 161.7,653.7 163.2,653.7 164.7,652.2 166.2,652.2 167.7,650.7 169.2,650.7 170.7,649.2 172.2,649.2 173.7,647.7 175.2,647.7 176.7,646.2 178.2,646.2 179.7,644.7 181.2,644.7 182.7,643.2 185.7,643.2 187.2,641.7 188.7,641.7 190.2,640.2 193.2,640.2 194.7,638.7 197.7,638.7 199.2,637.2 202.2,637.2 203.7,635.7 206.7,635.7 208.2,634.2 214.4,634.2 217.2,633.1 244.2,630.6 293.5,629.7ZM197.7,706 188.4,709.2 175.8,715.2 152.7,728 142.2,735.1 133.2,744.1 126.3,752.7 121.2,761 117.8,769.2 115.9,778.2 116,784.2 117.5,788.7 119.7,791.4 122.7,793.8 123.6,796.2 119.5,824.7 119.2,833.7 120,842.7 123.8,854.7 135.7,883.2 140.7,893.5 146.7,903.1 149.7,906.5 152.7,908.7 157.2,909.4 161.4,904.2 163.2,903.1 166.2,902.4 169.2,903.2 178.2,909 181.2,909 184.2,906.6 185.7,906.1 190.2,909.2 203.7,921.7 215.7,931.3 229.2,938 254.7,947.3 262.2,948.7 269.7,948.6 275.7,947.1 287.7,941.6 293.7,939.7 302.7,938.7 313.2,939.8 319.2,937.9 326.6,932.7 329.2,929.7 330.6,926.7 330.6,922.2 325.5,914.7 324.2,910.2 324.6,907.2 327.8,896.7 327.5,880.2 329.7,875.7 337.9,865.2 339.3,862.2 339.9,859.2 339.9,824.7 338,817.2 334.2,808.7 330,802.2 317.7,791.1 307.2,779 304.2,776.4 298.2,774.2 286.7,772.2 265.2,767.1 263.5,766.2 260.7,763.4 256.9,757.2 254.7,754.7 250.2,752.3 241.8,749.7 240.7,748.2 238.1,737.7 238.8,736.2 243.9,730.2 245.2,727.2 244.7,724.2 242.1,721.2 238.2,719.3 232.2,717.7 215.7,715.5 212.8,713.7 209.7,708.2 206.7,705.9 203.7,705.1ZM299.7,950.4 289.4,953.7 287.3,955.2 286.3,956.7 286.2,958.2 287.7,960 290.7,961.1 296.7,960.7 301.2,959.3 306.6,956.7 309.9,953.7 310.5,952.2 310.2,950.7 307.2,949.2Z"/>
<path fill="#3cffba" d="M283.1,634.2 301.2,634.1 317.7,636.6 337.2,642.6 355.2,650.1 371.7,658.7 388.2,669.4 401.7,679.8 422.7,699.2 428.7,703.4 430.2,702.7 482.7,658.3 482.7,1058.7 47.7,1058.7 47.7,858.8 52.2,858.5 53.7,855.5 59.6,818.7 68.7,782.5 76,760.2 80.5,749.7 86.7,737.7 95.7,723 104.7,710.5 114.6,698.7 124.2,689.3 134.7,680.9 146.1,673.2 189.9,647.7 203.4,641.7 213.2,638.7 220.3,637.2 241.2,635.1ZM200.7,682.2 193.2,683.7 185.7,686.4 161.7,698.2 155.7,700.6 152.7,700.8 149.7,698.4 148.2,698.1 145.2,698.6 140.7,700.9 131.7,708.4 122.2,719.7 115.7,730.2 110.6,742.2 107.7,753.5 104.1,782.7 103.2,800.7 103.8,809.7 108.1,826.2 111.2,842.7 113.2,850.2 116,857.7 123.7,874.2 131.7,897.2 138.8,911.7 155.7,942.1 158.7,946.5 163.2,950.7 170,955.2 188.4,965.7 197.9,970.2 203.7,972 209.7,972.9 214.2,972.8 216.4,971.7 215.6,970.2 210.2,964.2 205.2,956.7 202.5,953.7 197.7,951.6 187.2,949.3 181.2,946.7 172.2,940.5 166.2,934.2 162.4,928.2 160.9,922.2 162.7,916.2 161.2,911.7 160.9,908.7 162.3,905.7 164.3,904.2 166.2,903.8 168.3,904.2 178.2,909.7 181.2,909.9 184.2,908.1 185.7,907.9 187.2,908.6 191.7,912.1 201.9,922.2 211.2,933.5 218.4,938.7 227.3,943.2 235,946.2 260,953.7 267.7,956.7 269.2,958.2 270.4,961.2 274.6,965.7 275.1,968.7 274.8,970.2 274.1,971.7 271.2,973.6 258.2,974.7 256.7,976.2 256.3,977.7 257,979.2 257.7,979.5 262.2,980.7 269.7,980.5 286.2,975.2 310.2,968.4 322.2,964.1 334.2,958 337.2,955.2 340,950.7 340.8,946.2 337.8,940.2 337.7,935.7 338.9,932.7 347.7,919.2 349.8,914.7 350.9,910.2 351.5,902.7 355.8,889.2 356.1,883.2 353.8,875.7 353.5,872.7 354.3,856.2 351.5,842.7 352,838.2 354.7,829.2 354.9,823.2 353.4,815.7 349.7,805.2 339.5,785.7 335.7,776.3 334.2,774 329.8,770.7 319.2,765.3 310.2,760 307.2,757.1 303.8,751.2 301.3,748.2 296.7,744.4 285.8,737.7 282,731.7 276.6,725.7 273.3,718.2 272.7,713.7 274.3,710.7 278.7,706.5 279.9,704.7 280.1,703.2 279.7,701.7 277.2,698.7 272.7,695.5 265.2,691.6 259.2,689.4 253.2,688.4 239.7,688.4 215.7,691.5 209.7,691.8 207.9,691.2 206.7,689.9 204,683.7 202.2,682.3Z"/>
<path fill="#66ff90" d="M292.1,641.7 299.7,640.7 307.2,640.6 314.7,641.1 322.2,642.5 331.2,644.9 343.2,649 362.7,657.7 380.7,668.1 395.7,678.9 407.7,689.1 425.7,706.2 436.2,715.1 439.2,717 440.7,716.5 482.7,686.4 482.7,1058.7 47.7,1058.7 47.7,879.4 55.2,877.8 56.9,866.7 64.6,830.7 70.2,811.5 74.7,800.5 79.2,792.6 83.7,787.3 88.2,784.6 91.2,784.8 92.7,785.5 93.8,788.7 93.2,820.2 94,829.2 95.5,835.2 114.3,878.7 122.1,898.2 128.7,912 141.3,935.7 145.8,943.2 154.4,953.7 166.2,963.5 179.7,971.3 188.7,975.1 194.7,976.9 221.7,982.1 242.7,986.8 254.7,988.3 266.7,988.7 275.7,988.2 285.1,986.7 314.7,978.1 326.7,973.2 338.2,967.2 340.2,965.7 343.2,961.6 349.2,946.2 352.8,929.7 360.1,911.7 362.4,904.2 363.6,895.2 363.8,871.2 367.2,854.7 368.3,842.7 367.2,828 363.9,814.2 359.9,805.2 351.1,788.7 345.9,773.7 343.8,769.2 341.6,766.2 334.2,759.4 325.2,752.7 317.9,748.2 314.5,745.2 311.6,740.7 307.2,730.2 303.1,725.7 296,719.7 293.6,716.7 293.2,713.7 294.3,706.2 292.7,701.7 285.7,692.7 278.7,681.1 271.2,674 266.7,670.9 259.2,668.6 248.7,667.5 236.7,667.6 223.2,668.9 214.2,670.4 205.2,672.8 193.2,676.9 176.9,683.7 174.9,683.7 176.6,680.7 185.7,669 188.9,662.7 191.7,659.2 198.7,653.7 209.7,648.6 223.2,645.4 236.7,644.3 247.2,645.2 260.7,648.7 268.2,649 274.2,647.7 286.4,643.2ZM168.1,907.2 170.7,907.4 179.7,910.9 185.7,909.7 188.7,911.3 192.7,914.7 199.7,922.2 206.6,932.7 214.2,938.9 221.4,943.2 227.9,946.2 250.2,953.7 256,956.7 257.5,958.2 259.6,962.7 259.9,965.7 259.2,968.4 256.6,970.2 239.7,971.9 233.7,971.5 229.2,970.3 224.7,968.2 220.9,965.7 213.2,956.7 202.7,949.2 194.7,944.9 182.7,940.7 178.2,938.5 171.6,932.7 169.6,929.7 168.4,926.7 167.7,919.2 164.9,911.7 165,910.2Z"/>
<path fill="#90ff66" d="M311.3,650.7 317.7,650.1 326.7,650.4 334.2,651.6 343,653.7 359.2,659.7 376.2,668.5 391.2,678.4 406.2,690.5 419.6,703.2 451.2,734.7 482.7,716.6 482.7,1008.2 436.2,972.6 434.7,972.6 433.2,973.7 427.2,979.5 399.3,1007.7 396.8,1010.7 396.6,1012.2 432.2,1058.7 47.7,1058.7 47.7,900.2 58.2,897.4 58.8,896.7 59.3,893.7 59.5,880.2 61.5,868.2 70.2,838.9 71.7,835.8 73.2,834.5 83.7,832.1 85.2,833.1 91.9,853.2 101.2,869.7 113.7,898.1 133.2,933.4 142.2,947.1 150.5,956.7 160.2,965.4 171.1,973.2 181.9,979.2 191.7,982.8 214.2,986.3 243.7,992.7 260.7,994.3 280.2,994.2 299.7,991.8 317.7,986.7 329.7,981.8 341.7,975.7 346.2,972.5 349.3,968.7 351.2,964.2 357,941.7 367.2,915.8 371.6,901.2 372.3,893.7 372.1,875.7 375,859.2 376.1,847.2 376.1,836.7 375.4,826.2 373.9,817.2 371.7,809.4 368.7,803.6 357.9,787.2 352.5,772.2 348.8,764.7 343.2,757 330.5,742.2 315.2,721.2 312.7,716.7 308.2,706.2 300.4,695.7 293.5,683.7 287.4,676.2 284.8,671.7 282.8,665.7 282.3,662.7 282.8,661.2 284.2,659.7 295.2,654.9ZM173.5,911.7 176.7,911.6 182.7,912.6 185.7,912.2 188.7,913.1 191.7,915.5 196.3,920.7 203,931.2 208.2,936.3 212.7,939.7 224.7,946.7 243.2,953.7 248.5,956.7 249.3,958.2 246.3,965.7 244.2,966.9 239.7,967.3 233.7,966.6 229.2,964.9 196.2,942.7 179.7,933.3 176.7,930.7 174.8,928.2 171.4,919.2 170.8,916.2Z"/>
<path fill="#baff3c" d="M325.4,659.7 335.7,659.5 343.2,660.2 352.2,662.3 362.7,666 374.7,671.6 385.2,677.7 394.2,683.8 405.5,692.7 416.7,702.9 427.4,713.7 439.6,727.2 448.1,737.7 455.1,748.2 461,758.7 466.9,770.7 469.2,776.9 470.3,778.2 470.7,780.8 472.1,782.7 472.2,784.6 473.7,785.7 473.7,790.2 475.2,791.7 475.2,796.2 476.7,797.7 476.7,803.7 478.2,805.2 478.2,814.2 479.7,815.7 479.7,832.2 481.2,833.7 481.1,842.7 479.7,845.4 479.3,856.2 477.5,868.2 472.7,890.7 469.8,901.2 465.2,914.7 456.6,934.2 451.6,943.2 445.8,952.2 436.2,964.4 422.6,979.2 394.2,1007.6 381.8,1018.2 371.7,1024.9 355.2,1033.6 340.2,1039.9 322.2,1045.7 295.2,1051.8 266.1,1055.7 265.8,1058.7 47.7,1058.7 47.7,923.2 64.2,917 65.1,916.2 65.2,913.2 63.1,895.2 63.5,881.7 64.7,875.7 68.7,864.2 71.7,857.9 73.2,856.7 77.7,857.3 82.2,859.2 85.2,860.8 88.2,864.2 100.2,882.3 112.2,905.7 126.7,931.2 134.6,943.2 142.2,952.8 151.8,962.7 162.4,971.7 173.7,979.5 185.7,986.1 194.7,988.7 215.7,990.9 238.2,996 253.2,998.4 274.2,999.9 292.2,999.5 307.2,996.9 317.7,993.7 328.3,989.7 338,985.2 347.7,979.9 352.3,976.2 356.3,971.7 359.1,965.7 359.9,955.2 361.6,947.7 373.9,916.2 378,901.2 378.9,892.2 379.1,875.7 380.9,862.2 381.7,850.2 381.9,832.2 381.4,821.7 379.9,812.7 377.3,805.2 374.1,799.2 363.6,782.7 353.6,757.2 347.7,745.5 341.5,736.2 327,718.2 309.6,689.7 306.1,685.2 298.9,677.7 297.2,674.7 297.1,671.7 298.2,668.2 300,665.7 304.2,662.8 311.7,660.8ZM178.2,917.7 179.7,916.9 184.2,917.5 188.7,917.2 190.2,917.7 192.1,922.2 194.2,925.2 205.2,936.8 213.9,944.7 214.9,946.2 214.2,947.7 212.7,949 206.6,946.2 182.5,929.7 179.5,926.7 178.2,924.3 177.6,920.7Z"/>
<path fill="#e4ff13" d="M330.6,668.7 349.2,668.6 356.7,669.8 364.2,672.1 373.2,675.9 382.2,680.7 394,688.2 404.2,695.7 415.2,704.9 424.2,713.4 433.2,723.1 441.5,733.2 449,743.7 454.6,752.7 459.5,761.7 464.9,773.7 471.2,793.2 474.2,806.7 476,818.7 477.1,830.7 477.4,842.7 476.9,854.7 475.7,866.7 473.7,878.5 470.7,891.6 467.7,901.9 463.2,914.3 458.7,924.3 453.5,934.2 440.9,953.7 430.2,967 418.2,979.6 395.7,1001.5 379.2,1015.4 368,1022.7 352.2,1030.7 335.7,1037.5 319.2,1042.6 298.2,1047.5 277.2,1050.7 256.2,1052 229.2,1052.5 228.3,1052.7 227.2,1058.7 47.7,1058.7 47.7,948.6 73.3,935.7 73.2,932.7 69.9,919.2 68.3,910.2 67.2,899.7 66.9,892.2 67.4,887.7 70.2,878.4 72.9,872.7 74.7,871 77.7,871.2 82.2,874 88.2,879.9 92.7,885.3 104.7,902.2 127,938.7 134.8,949.2 142.6,958.2 154.2,969.3 166.2,978.8 179.7,987.5 188.7,991.6 199.2,993.9 220.2,996 245.7,1002.3 262.2,1005.5 275.7,1006.4 289.2,1005.6 301.2,1003.8 311.7,1001.1 322.2,997.7 334.2,992.9 344.7,987.6 352.2,983.2 358.9,977.7 364.3,971.7 367.2,967.2 368.6,962.7 368.5,958.2 367.4,952.2 367.8,947.7 378.6,919.2 381.9,908.7 383.6,901.2 386,878.7 388.6,865.2 389.9,854.7 390.5,839.7 389.7,824.7 388,814.2 385.4,805.2 381.7,797.7 371.9,782.7 368.8,776.7 365.7,767.7 361.2,748.6 358.3,742.2 353.4,734.7 337,715.2 322.6,691.2 312.3,680.7 310.2,677.7 310.2,676.2 311,674.7 314.7,672 322.2,669.9Z"/>
<path fill="#ffde00" d="M329.6,679.2 337.2,678.3 353.7,678.7 361.2,679.3 367.2,680.6 374.7,683.2 382.2,686.7 400.2,697.9 409.2,704.7 419.7,713.6 428.7,722.3 437.7,732.3 445.2,742.2 452.7,753.8 457.8,763.2 462.5,773.7 466.8,785.7 469.8,796.2 473,811.2 474.5,821.7 475.3,832.2 475.6,844.2 475,856.2 473.7,867.6 469.2,889.3 462.2,910.2 457.6,920.7 451.5,932.7 445.2,943.2 439.2,952 431.7,961.3 424.2,969 392.7,998.9 377.7,1011.3 367.2,1018.1 350.7,1026.6 335.7,1032.8 320.7,1037.6 302.7,1042.2 286.9,1045.2 271.2,1047.1 248.7,1048.6 235.2,1048.6 223.2,1047.9 209.7,1045.8 192.6,1042.2 190.2,1042.2 183.8,1058.7 47.7,1058.7 47.7,996.4 91,965.7 89.7,961.9 82.7,947.7 78.9,938.7 75.6,928.2 72.5,914.7 71.5,905.7 72.4,896.7 74.7,887.8 76.2,885.4 77.7,884.4 80.7,885 83.7,887.5 100.2,905.3 107.7,915.6 125.7,943.8 133.5,953.7 143.1,964.2 154.6,974.7 167.7,984.7 180.6,992.7 190.2,996.7 199.2,998.6 221.7,1001.4 250.5,1010.7 257.7,1012.4 271.2,1013 289.2,1011.5 304.2,1008.7 316.2,1005.5 328.2,1001.3 341.7,995.4 352.2,989.7 358.2,985.4 364.2,979.8 370.9,971.7 375.9,964.2 379.1,956.7 379.3,953.7 377.2,946.2 377,941.7 386.6,910.2 391.1,881.7 394.5,865.2 395.9,854.7 396.5,844.2 396.3,833.7 395.3,823.2 392.8,809.7 389.7,800.3 385.2,791.1 376.6,776.7 373.4,769.2 371.1,760.2 369.5,748.2 367.7,742.2 361.2,731.5 345.6,710.7 337.3,697.2 326.5,683.7 326.1,682.2 326.8,680.7Z"/>
<path fill="#ffae00" d="M343.4,688.2 347.7,687.3 353.7,687.8 377.7,693 389.7,698.1 404.7,707.4 421.2,720.5 436.2,735.8 449.7,753.3 454.2,760.6 458.7,769.5 465.4,787.2 470.5,808.2 473.2,829.2 473.5,848.7 471.5,868.2 467.2,887.7 460.2,908.5 451.2,928 442.1,943.2 431.7,956.2 422.7,964.8 406.2,978.8 384.1,1000.2 374.7,1007.7 362.8,1015.2 350.7,1021.3 335.7,1027.3 316.4,1033.2 289.6,1039.2 247.2,1044.7 235.2,1045.4 218.7,1044.1 199.2,1040.1 181.2,1034.7 164.7,1027.5 145.2,1015.5 127.2,1001.5 111.9,986.7 105.6,979.2 98.7,969.6 91.7,958.2 86.3,947.7 81.8,937.2 78.8,928.2 77.3,920.7 77.1,913.2 78.4,904.2 80.7,899.7 82.2,899 85.2,900 100.2,913.7 107.7,923.3 122.3,946.2 131.7,958.2 146.3,973.2 163.3,986.7 178.2,996 190.2,1001.1 200.7,1003.9 220.2,1006.9 238.2,1012.6 247.2,1014.8 257.7,1016.3 269.7,1017 283.2,1016.8 301.2,1015.8 311.7,1014.5 331.2,1008.4 350.7,999.5 358.2,995 362.7,991.4 368.7,985.1 374.4,977.7 384,961.2 386.7,955.2 388.2,949.2 388.2,946.2 386.3,937.2 386.5,932.7 391.8,908.7 399,859.2 399.7,848.7 399.8,836.7 398.2,815.7 396.3,806.7 392.7,796 388.2,786.3 380.7,772.6 378.7,767.7 377.2,761.7 374.8,745.2 371.9,736.2 367.2,727.6 353.4,706.2 343.8,692.7 342.7,689.7Z"/>
<path fill="#ff7e00" d="M360.8,698.7 362.7,698.2 365.7,698.4 372.7,700.2 389.7,706.5 398.7,710.9 407.7,716.5 418.2,724.4 427.2,732.4 434.7,740.3 445.2,753 451.2,761.2 455.7,768.4 460.2,777.8 463.2,786.1 466.4,797.7 469.2,811.8 470.9,824.7 471.6,838.2 471.4,850.2 470.4,860.7 468,874.2 464.7,886.8 460.2,900.4 455.7,911.7 449.7,924.1 439.2,941.3 434.7,947.1 428.7,953.5 421.2,959.8 409.2,967.6 394.2,979.1 389.7,981.7 386.7,982.6 384.9,982.2 384,980.7 384,979.2 385.4,974.7 392.3,959.7 394.8,944.7 394.3,926.7 398,893.7 401.4,869.7 402.6,856.2 403,835.2 402.4,818.7 400.8,808.2 396.8,794.7 391.2,781.5 385.5,770.7 383.3,764.7 381.3,754.2 380.2,742.2 378.8,736.2 370.9,719.7 361.1,703.2 360.2,700.2ZM86,913.2 88.2,912.7 91.2,914.2 95.7,917.9 101.7,923.9 106.2,929.6 113.7,941.7 121.2,952.3 130.2,963.1 139.2,972.5 148.2,980.7 157.2,987.8 175.2,999.6 184.2,1004.1 194.7,1007.8 229.2,1016 250.2,1019.4 283,1021.2 286.4,1022.7 285.7,1024.2 283.2,1027 280.2,1029.2 275.2,1031.7 269.7,1033.5 242.7,1039.7 233.7,1041 224.7,1041.4 214.2,1040.5 195.4,1036.2 179.7,1030.9 163.2,1023.1 145.2,1011.8 127.2,997.6 113.1,983.7 102.4,970.2 92.3,953.7 88,944.7 85.2,937.2 83.7,929.7 83.4,922.2 84.2,916.2Z"/>
<path fill="#ff4e00" d="M378.2,713.7 379.2,712.5 380.7,712.3 386.7,713.9 400.2,720.4 410.7,726.5 418.2,732 425.7,738.5 442.2,756.1 452.7,770.2 459.1,782.7 461.7,790.2 464.7,801.8 467.9,820.2 469.2,842.7 467.6,860.7 465.2,872.7 461.7,885.5 457.2,899 452.7,910.1 448.2,919.4 442.2,929.8 436.2,938.4 431.7,943.7 427.2,947.7 413.7,956.9 409.2,959.5 404.7,961.1 403.2,960.6 402.7,959.7 402.3,949.2 401.2,943.2 401.1,925.2 401.8,911.7 401.4,899.7 402.3,889.2 405.6,869.7 406.9,857.7 407.3,835.2 406.6,820.2 404.8,808.2 401.1,794.7 397.1,784.2 389.3,767.7 387.8,763.2 386.8,757.2 387.8,746.7 387,739.2 384.9,731.7 379.1,718.2ZM92.6,928.2 94.2,927.5 95.7,928 100.2,931.6 117.3,953.7 130.5,968.7 148.2,985.8 164.7,999.3 176.7,1006.7 190.2,1012.9 202.2,1017.1 227.2,1024.2 235.4,1027.2 237.4,1028.7 238,1030.2 237.4,1031.7 235.3,1033.2 230.7,1034.5 220.2,1035.3 213.4,1034.7 187,1030.2 178.1,1027.2 165,1021.2 154.5,1015.2 143.7,1008 131.7,998.7 119.7,987.6 110.8,977.7 103.2,967.2 97.2,956.3 92.8,941.7 91.5,932.7Z"/>
<path fill="#ff1e00" d="M393.7,728.7 395.7,727.8 401.7,729.8 407.7,733.4 417.6,740.7 424.2,746.2 433.2,754.8 446.7,769.8 452.7,779 457.2,789.1 461.7,806.1 464.4,823.2 465.4,842.7 464.2,857.7 460.2,877.2 454.2,896.3 446.7,913.1 439,925.2 433.2,932.2 427.2,938.3 422.7,941.6 418.2,943.5 416.7,943.1 415.2,941.9 409.2,934.7 408.2,931.2 408.8,911.7 406.5,893.7 406.4,889.2 411.9,857.7 412.8,844.2 412.4,830.7 411,818.7 408.3,805.2 403.9,790.2 395.5,766.2 395.4,763.2 397.7,755.7 398.1,751.2 397.5,746.7 393.7,733.2ZM107.8,953.7 109.2,953.1 113.7,956.5 145.7,989.7 148.5,994.2 146.7,997.1 145.2,998.5 143.7,999 140.7,998.8 134.7,996 126.5,989.7 119.7,983.1 114.8,976.2 110.7,967.8 107.7,958.2Z"/>
<path fill="#d60000" d="M406,745.2 407.7,743.9 409.2,744.4 415.2,748.4 437.7,770 445.2,779 449.7,786.6 452.7,794.3 455.8,805.2 458.7,820.2 460.1,835.2 460,848.7 458.6,860.7 454.9,877.2 449.5,893.7 443.7,906.3 436.2,917.2 433.2,920.1 430.2,921.4 419.7,917.1 418.2,915 417.9,913.2 417,899.7 414.7,884.7 418,851.7 418.3,839.7 417.7,826.2 414.3,796.2 412.8,775.2 410.9,766.2 406.3,749.7Z"/>
<path fill="#9b0000" d="M424.3,779.7 425.7,778.2 428.7,780.1 435.8,787.2 440.7,793.2 445.2,803 448.2,812.8 449.8,820.2 451.6,836.7 451.1,854.7 448.2,871.5 445.2,881.9 442.2,888.5 440.7,888.7 431.7,886.3 430.2,885.2 424.5,860.7 423.8,850.2 423.9,832.2 426.4,814.2 426.7,806.7Z"/>
</g>
<circle cx="265.8" cy="841.8" r="46.7" fill="#fff"/>
<g fill="none" stroke="#b0b0b0" stroke-width="1.6"><circle cx="265.8" cy="841.8" r="42.8"/><circle cx="265.8" cy="841.8" r="85.6"/><circle cx="265.8" cy="841.8" r="128.5"/><circle cx="265.8" cy="841.8" r="171.3"/><line x1="265.8" y1="841.8" x2="479.9" y2="841.8"/><line x1="265.8" y1="841.8" x2="417.2" y2="690.4"/><line x1="265.8" y1="841.8" x2="265.8" y2="627.7"/><line x1="265.8" y1="841.8" x2="114.4" y2="690.4"/><line x1="265.8" y1="841.8" x2="51.7" y2="841.8"/><line x1="265.8" y1="841.8" x2="114.4" y2="993.2"/><line x1="265.8" y1="841.8" x2="265.8" y2="1055.9"/><line x1="265.8" y1="841.8" x2="417.2" y2="993.2"/></g>
<circle cx="265.8" cy="841.8" r="214.1" fill="none" stroke="#000" stroke-width="1.5"/>
<g fill="#000"><text transform="translate(244.74,612.04) scale(1.167,1.040)" font-family="Liberation Sans" font-size="24">90°</text><text transform="translate(69.06,681.14) scale(1.168,1.040)" font-family="Liberation Sans" font-size="24">135°</text><text transform="translate(411.18,680.94) scale(1.149,1.040)" font-family="Liberation Sans" font-size="24">45°</text><text transform="translate(0.59,848.64) scale(1.151,1.040)" font-family="Liberation Sans" font-size="24">180°</text><text transform="translate(488.31,848.14) scale(1.088,1.040)" font-family="Liberation Sans" font-size="24">0°</text><text transform="translate(516.49,847.70) scale(1.036,1.040)" font-family="Liberation Sans" font-size="24">Ψ</text><text transform="translate(68.85,1014.84) scale(1.160,1.040)" font-family="Liberation Sans" font-size="24">225°</text><text transform="translate(237.05,1083.94) scale(1.162,1.040)" font-family="Liberation Sans" font-size="24">270°</text><text transform="translate(403.44,1014.84) scale(1.156,1.040)" font-family="Liberation Sans" font-size="24">315°</text><text transform="translate(306.60,820.44) scale(1.104,1.040)" font-family="Liberation Sans" font-size="24">0.2</text><text transform="translate(346.36,803.94) scale(1.087,1.040)" font-family="Liberation Sans" font-size="24">0.4</text><text transform="translate(386.10,787.44) scale(1.104,1.040)" font-family="Liberation Sans" font-size="24">0.6</text><text transform="translate(425.85,770.94) scale(1.104,1.040)" font-family="Liberation Sans" font-size="24">0.8</text><text transform="translate(464.71,754.44) scale(1.138,1.040)" font-family="Liberation Sans" font-size="24">1.0</text><text transform="translate(391.25,814.74) scale(1.101,1.040)" font-family="Liberation Sans" font-size="24">r/R</text></g>
<path d="M544.0,648.9 L544.0,647.4 L553.05,628.8 L562.1,647.4 L562.1,648.9Z" fill="#800000"/>
<path d="M544.0,1035.9 L544.0,1037.4 L553.05,1056.0 L562.1,1037.4 L562.1,1035.9Z" fill="#000080"/>
<rect x="544.0" y="1017.95" width="18.1" height="19.80" fill="#00009b"/>
<rect x="544.0" y="998.45" width="18.1" height="19.80" fill="#0000d6"/>
<rect x="544.0" y="978.95" width="18.1" height="19.80" fill="#0000ff"/>
<rect x="544.0" y="959.45" width="18.1" height="19.80" fill="#0030ff"/>
<rect x="544.0" y="939.95" width="18.1" height="19.80" fill="#0064ff"/>
<rect x="544.0" y="920.45" width="18.1" height="19.80" fill="#0098ff"/>
<rect x="544.0" y="900.95" width="18.1" height="19.80" fill="#00ccff"/>
<rect x="544.0" y="881.45" width="18.1" height="19.80" fill="#13fce4"/>
<rect x="544.0" y="861.95" width="18.1" height="19.80" fill="#3cffba"/>
<rect x="544.0" y="842.45" width="18.1" height="19.80" fill="#66ff90"/>
<rect x="544.0" y="822.95" width="18.1" height="19.80" fill="#90ff66"/>
<rect x="544.0" y="803.45" width="18.1" height="19.80" fill="#baff3c"/>
<rect x="544.0" y="783.95" width="18.1" height="19.80" fill="#e4ff13"/>
<rect x="544.0" y="764.45" width="18.1" height="19.80" fill="#ffde00"/>
<rect x="544.0" y="744.95" width="18.1" height="19.80" fill="#ffae00"/>
<rect x="544.0" y="725.45" width="18.1" height="19.80" fill="#ff7e00"/>
<rect x="544.0" y="705.95" width="18.1" height="19.80" fill="#ff4e00"/>
<rect x="544.0" y="686.45" width="18.1" height="19.80" fill="#ff1e00"/>
<rect x="544.0" y="666.95" width="18.1" height="19.80" fill="#d60000"/>
<rect x="544.0" y="647.45" width="18.1" height="19.80" fill="#9b0000"/>
<path d="M544.0,647.4 L553.05,628.8 L562.1,647.4 L562.1,1037.4 L553.05,1056.0 L544.0,1037.4Z" fill="none" stroke="#000" stroke-width="1.3" stroke-linejoin="round"/>
<line x1="562.1" y1="647.4" x2="569.1" y2="647.4" stroke="#000" stroke-width="1.3"/>
<line x1="562.1" y1="705.9" x2="569.1" y2="705.9" stroke="#000" stroke-width="1.3"/>
<line x1="562.1" y1="764.4" x2="569.1" y2="764.4" stroke="#000" stroke-width="1.3"/>
<line x1="562.1" y1="822.9" x2="569.1" y2="822.9" stroke="#000" stroke-width="1.3"/>
<line x1="562.1" y1="881.4" x2="569.1" y2="881.4" stroke="#000" stroke-width="1.3"/>
<line x1="562.1" y1="939.9" x2="569.1" y2="939.9" stroke="#000" stroke-width="1.3"/>
<line x1="562.1" y1="998.4" x2="569.1" y2="998.4" stroke="#000" stroke-width="1.3"/>
<g fill="#000"><text transform="translate(604.92,656.09) scale(1.178,1.040)" font-family="Liberation Sans" font-size="24">3.0</text><text transform="translate(604.63,714.85) scale(1.178,1.040)" font-family="Liberation Sans" font-size="24">2.4</text><text transform="translate(605.22,773.09) scale(1.178,1.040)" font-family="Liberation Sans" font-size="24">1.8</text><text transform="translate(605.22,831.85) scale(1.178,1.040)" font-family="Liberation Sans" font-size="24">1.2</text><text transform="translate(605.22,890.09) scale(1.178,1.040)" font-family="Liberation Sans" font-size="24">0.6</text><text transform="translate(604.92,948.59) scale(1.178,1.040)" font-family="Liberation Sans" font-size="24">0.0</text><text transform="translate(596.01,1007.09) scale(1.195,1.040)" font-family="Liberation Sans" font-size="24">-0.6</text></g>
<g fill="#000"><text transform="translate(581.15,610.82) scale(0.953,0.929)" font-family="Liberation Sans" font-size="30" font-style="italic">c</text><text transform="translate(596.82,616.24) scale(1.172,1.084)" font-family="Liberation Sans" font-size="21" font-style="italic">q</text><text transform="translate(633.46,610.79) scale(1.040,1.026)" font-family="Liberation Sans" font-size="30">10</text><text transform="translate(670.16,600.15) scale(1.086,1.041)" font-family="Liberation Sans" font-size="21">4</text></g>
<circle cx="622.5" cy="600.1" r="2.1" fill="#000"/>
<g fill="#000"><text transform="translate(256.64,1128.71) scale(1.325,1.162)" font-family="Liberation Serif" font-size="26" font-weight="bold">(b)</text><text transform="translate(303.66,1129.43) scale(1.114,1.069)" font-family="Liberation Serif" font-size="26">Best cruise</text></g>
<clipPath id="cl2"><circle cx="265.8" cy="1424.2" r="214.1"/></clipPath>
<g clip-path="url(#cl2)">
<circle cx="265.8" cy="1424.2" r="216.1" fill="#0000d6"/>
<path fill="#0000ff" d="M47.7,1206.1 441.3,1206.1 400.2,1257.1 430.2,1287.4 431.7,1288.8 433.2,1288.9 482.7,1249 482.7,1641.1 47.7,1641.1Z"/>
<path fill="#0030ff" d="M47.7,1206.1 407,1206.1 382.7,1243.6 383.1,1245.1 400.2,1259.2 415.2,1273.1 429.7,1288.6 445.2,1307 446.6,1306.6 482.7,1283.1 482.7,1641.1 47.7,1641.1Z"/>
<path fill="#0064ff" d="M47.7,1206.1 378.2,1206.1 364.3,1233.1 364.9,1234.6 382.2,1246.1 394.2,1255.2 404.7,1264.1 416.3,1275.1 427.5,1287.1 438.5,1300.6 447.1,1312.6 455.2,1324.6 455.7,1326.2 457.2,1327.6 482.7,1314.7 482.7,1641.1 47.7,1641.1ZM152.7,1438.6 149.7,1440 146.7,1440 146.3,1443.1 146.7,1448.5 148.2,1455.8 149.7,1460.4 152.7,1466.6 157.2,1472.4 163.2,1477 169.9,1483.6 176.7,1487.6 179.7,1488.4 180.5,1488.1 183.1,1485.1 183.6,1483.6 183,1482.1 173.7,1467.1 170.5,1459.6 165.7,1446.1 163.4,1443.1 161.7,1442 158.7,1441.5 154.2,1438.4Z"/>
<path fill="#0098ff" d="M47.7,1206.1 357.1,1206.1 349,1225.6 348.9,1227.1 371.7,1240.2 386.7,1250.3 402.7,1263.1 418.2,1277.8 431.8,1293.1 444.1,1309.6 453.4,1324.6 464.7,1346.2 466.2,1347.9 482.7,1341.6 482.7,1641.1 47.7,1641.1 47.7,1445.5 52.2,1445 53.7,1440.5 55.4,1402.6 58,1384.6 60.9,1371.1 68.2,1347.1 73.9,1332.1 79.2,1320.3 79.8,1317.1 47.7,1298.3ZM221.7,1399.6 220.2,1401.1 220.2,1402.6 218.7,1404.1 218.7,1407.1 217.2,1408.6 217.2,1410.1 215.7,1410.6 215,1411.6 207.8,1414.6 194.7,1417.4 185.9,1420.6 180.8,1423.6 173.7,1432.4 170.7,1434.2 169.2,1434.3 163.2,1431.7 158.7,1431.2 157.2,1430.5 154.5,1426.6 151.5,1419.1 149.7,1416.2 146.7,1413.7 142.2,1408 139.2,1407.1 137.7,1407.9 136.8,1411.6 138,1431.1 143.2,1453.6 147.9,1467.1 151.2,1473.5 154.2,1478.1 157.2,1481.7 161.7,1485.9 165.7,1488.1 185.7,1496 191.7,1495.9 205.2,1499.3 223.2,1498.3 235.2,1495.1 242.7,1494.7 247.2,1495.6 251.7,1497.3 263.7,1504.4 266.7,1504.7 268.2,1504.1 286.2,1492.7 289.4,1489.6 291,1486.6 292.5,1479.1 300.7,1467.1 302,1464.1 302.4,1461.1 266.7,1425.1 263.7,1423.6 262.2,1422.1 260.7,1422.1 259.2,1420.6 257.7,1420.6 256.2,1419.1 254.7,1419.1 251.7,1416.1 250.2,1416.1 248.7,1414.6 247.2,1414.6 245.7,1413.1 244.2,1413.1 241.2,1410.1 239.7,1410.1 238.2,1408.6 236.7,1408.6 235.2,1407.1 233.7,1407.1 230.7,1404.1 229.2,1404.1 227.7,1402.6 226.2,1402.6 224.7,1401.1 223.2,1401.1Z"/>
<path fill="#00ccff" d="M47.7,1206.1 336.9,1206.1 332.5,1219.6 332.5,1221.1 359.7,1234.3 377.7,1244.9 396.4,1258.6 414.6,1275.1 424.2,1285.2 433.2,1295.9 447.1,1315.6 454.9,1329.1 460.9,1341.1 472.2,1368.3 473.7,1368.5 482.7,1366.1 482.7,1641.1 47.7,1641.1 47.7,1471.4 56.7,1469.3 56.8,1449.1 58.5,1399.6 61.3,1378.6 65.7,1360 71.7,1342 77.7,1327.8 84.7,1314.1 97.2,1293.1 97.3,1291.6 47.7,1252.1ZM250.2,1366.5 235.2,1368.6 226.2,1367.2 221.7,1367.1 215.7,1369 211.5,1372.6 207.3,1378.6 199.4,1393.6 195.1,1405.6 194,1407.1 191.9,1408.6 188.1,1410.1 178.2,1411.7 170.7,1414.1 158.7,1411.1 153.7,1404.1 148.2,1401.3 146.7,1399.9 143.7,1395.2 141.5,1389.1 139.8,1374.1 139.2,1373 134.7,1372.3 133.2,1372.7 131.7,1374.8 128.3,1384.6 126.6,1392.1 126.1,1398.1 126.7,1404.1 129.2,1413.1 130.7,1431.1 132.4,1441.6 136.2,1454.1 144.5,1473.1 150.8,1483.6 157.2,1490.9 160.2,1492.7 164.7,1494.4 175.2,1496.2 190.2,1501.1 197.7,1501.3 202.2,1502.1 223.2,1509.2 230.7,1509.6 239.7,1507 244.2,1507.1 247.2,1509 252.2,1515.1 256.1,1518.1 259.7,1519.6 265.2,1520.4 269.7,1519.8 272.8,1518.1 275.4,1515.1 278.4,1509.1 280.7,1506.1 284.7,1502.8 293.9,1497.1 298.4,1492.6 303.4,1483.6 307,1471.6 314.7,1458.1 316.7,1453.6 317.8,1449.1 317.7,1443.1 316.2,1438.8 314.7,1437.1 314.7,1435.6 316.2,1434.1 316.2,1414.6 314.7,1413.1 314.7,1411.6 316.2,1409.3 317.1,1405.6 317.4,1402.6 316.5,1398.1 314,1393.6 310.2,1390.3 307.2,1388.9 301.2,1387.6 298.2,1384.6 296.7,1384.6 293.7,1381.6 292.2,1381.6 292.2,1380.1 287.9,1374.1 282.1,1369.6 275.7,1367.3 268.2,1366 259.2,1365.8Z"/>
<path fill="#13fce4" d="M47.7,1206.1 307.7,1206.1 306.3,1213.6 308.2,1215.1 325.2,1220.7 341.7,1227 355.2,1233.1 369.3,1240.6 379,1246.6 391.5,1255.6 400.6,1263.1 413.7,1275.4 430.2,1293.4 439.2,1305 446.7,1316.3 454.2,1329.4 462,1345.6 468.4,1362.1 475.2,1384.4 476.7,1387.8 482.7,1386.8 482.7,1641.1 47.7,1641.1 47.7,1491.6 61.2,1487.4 61.4,1486.6 59.7,1467.1 59.6,1458.1 61.2,1404.1 62.3,1390.6 64.1,1378.6 67.2,1365 71.7,1350 77.7,1333.8 83.7,1320.1 94.2,1301.8 114,1273.6 113.7,1272.1ZM205.2,1300.4 199.2,1302.2 193.2,1305.4 184.7,1311.1 175.2,1318.6 176.7,1318.8 179.7,1318.1 182.7,1318.6 185.7,1320.3 187.8,1323.1 186.1,1327.6 175.8,1341.1 172.1,1348.6 172.2,1352.2 180.9,1359.1 182,1362.1 181,1366.6 178.2,1372.6 172.2,1382 169.2,1385 166.2,1385.8 157.2,1383.5 154.2,1382.2 148.2,1373.9 147,1369.6 147.8,1363.6 149.8,1357.6 156.7,1344.1 166.2,1327.4 164.7,1327.4 161.7,1329.3 152.7,1336.7 151.2,1337 146.7,1336 143.7,1337.2 142,1339.6 136,1353.1 126.6,1377.1 123.7,1386.1 121,1399.6 120.3,1410.1 121,1420.6 125.5,1447.6 129.4,1461.1 134.8,1473.1 140.7,1483.7 146.7,1492.5 151.2,1497.4 155.7,1500.3 164.7,1501.5 178.2,1501.5 191.7,1505 199.2,1504.2 205.2,1505.2 212.7,1508 236.7,1520.5 241.2,1522 255.9,1524.1 269.7,1524.3 280.9,1522.6 284.6,1521.1 289.2,1517.9 292.2,1517 298.2,1518.2 301.2,1520.2 304.2,1520.8 310.2,1520.3 317.7,1517.8 323.7,1513.6 326.4,1510.6 328,1507.6 328.4,1504.6 328.1,1503.1 325.1,1498.6 324.1,1494.1 326.9,1482.1 325.9,1471.6 326,1467.1 327.9,1461.1 337.9,1447.6 339.3,1444.6 339.9,1441.6 339.5,1407.1 337,1398.1 332.9,1389.1 329.3,1383.1 323.3,1375.6 314.7,1366.9 307.2,1360.8 301.2,1357.4 284.7,1354.1 277.2,1351.2 272.7,1347.7 266.8,1339.6 262.2,1335.1 257.7,1331.4 253.2,1328.7 247.2,1326.7 233.7,1325.3 229.2,1323.6 224.7,1320.4 221.6,1317.1 220.2,1314.1 217.8,1305.1 215.7,1302.1 211.2,1300.3Z"/>
<path fill="#3cffba" d="M83.5,1206.1 265.8,1206.1 266.1,1210.6 269.8,1212.1 299.7,1216.9 323.9,1222.6 341.7,1228.6 361.7,1237.6 377.3,1246.6 391.6,1257.1 406.8,1270.6 424.2,1288.3 433.2,1298.8 442.2,1311 449.7,1323 455.7,1334.2 461.7,1347.3 467.7,1363.6 472.5,1380.1 478.2,1405.4 479.7,1407.5 482.7,1407.3 482.7,1641.1 47.7,1641.1 47.7,1505.2 64.2,1499.1 65.3,1497.1 62.9,1476.1 62.7,1456.6 64.5,1429.6 65.4,1396.6 67.2,1381.6 68.7,1374.1 71.7,1363.4 76.2,1350.6 85.2,1330.6 104.7,1294.6 116.9,1276.6 126.2,1264.6 128.5,1260.1ZM187.2,1267.5 178.7,1270.6 169.5,1276.6 160.2,1284.8 151.3,1294.6 141.1,1308.1 133.2,1320.6 127.2,1332.1 121.2,1346.7 118.1,1359.1 112.4,1395.1 110.9,1407.1 110.5,1419.1 111.2,1431.1 113.2,1441.6 116.6,1452.1 122.2,1465.6 128.3,1476.1 143.7,1500.5 155.7,1516.1 164.7,1525.5 175.2,1534.5 184.2,1540.8 191.7,1544.5 195.4,1545.1 195.2,1543.6 177.6,1528.6 170.3,1519.6 168.7,1516.6 168,1513.6 168.2,1512.1 169.2,1510.5 182.7,1506.6 185.7,1506.5 194.7,1508 200.7,1506.7 203.7,1506.9 209.7,1508.6 215.7,1511.5 226.5,1518.1 234.8,1525.6 239.7,1527.7 244.2,1528.3 262.2,1527.2 278.7,1527.6 282.7,1528.6 289.2,1532.1 301.8,1534.6 305.7,1537.7 308.7,1538.6 314.7,1537.2 323.7,1533.3 329.7,1529.7 334.2,1525.1 337.2,1520.7 348.7,1500.1 351.2,1494.1 351.9,1485.1 355,1474.6 355.8,1470.1 355.6,1464.1 353.9,1458.1 353.6,1455.1 355.4,1438.6 355.5,1422.1 356.9,1408.6 356.6,1402.6 353.6,1393.6 342.7,1374.1 336.1,1359.1 333.9,1356.1 330.2,1353.1 313.2,1344.3 308.7,1341.3 305.7,1338.1 303.2,1333.6 299.4,1329.1 286.1,1320.1 284.7,1317.1 284.4,1309.6 283.6,1306.6 275.7,1297.6 269.9,1288.6 264.3,1284.1 253.2,1278.8 242.7,1275.5 217.2,1273.5 213.3,1272.1 205.2,1267.7 199.2,1266.3 194.7,1266.3Z"/>
<path fill="#66ff90" d="M112.6,1206.1 207.4,1206.1 210.2,1216.6 215.7,1216.6 218.7,1215.7 233.7,1214.2 239.7,1214.1 244.2,1215.1 242.8,1218.1 239.8,1221.1 239.3,1222.6 248.7,1231.7 251.2,1233.1 256.2,1234 266.7,1234.5 271.2,1233.8 276.8,1231.6 281.7,1228.1 286.2,1225.8 290.7,1224.5 296.7,1223.7 304.2,1223.7 313.2,1224.6 326.7,1227.1 337.2,1229.7 347.7,1233.2 361.2,1239.1 372.2,1245.1 381.2,1251.1 390.9,1258.6 401,1267.6 421.2,1287.5 430.2,1297.3 440.7,1310.8 450.2,1326.1 459.8,1345.6 466.1,1362.1 472.1,1384.6 475.3,1402.6 477.1,1420.6 477.1,1438.6 476,1455.1 474.4,1470.1 473.7,1472.9 473.7,1480.6 472.2,1482.1 472.2,1485.1 470.7,1486.6 470.7,1489.6 469.2,1491.1 469.2,1494.1 467.7,1495.6 467.7,1498.6 466.2,1500.1 466.2,1503.1 464.7,1504.6 464.7,1506.1 463.2,1507.6 463.2,1509.1 461.7,1510.6 461.7,1513.6 460.2,1515.1 460.2,1516.6 458.7,1518.1 458.7,1519.6 457.2,1521.1 457.2,1522.6 455.7,1524.1 455.7,1525.6 454.2,1527.1 454.2,1528.6 451.2,1531.6 451.2,1533.1 449.7,1534.6 449.7,1536.1 446.7,1539.1 446.7,1540.6 443.7,1543.6 443.7,1545.1 440.7,1548.1 440.7,1549.6 436.2,1554.1 436.2,1555.6 430.2,1561.6 430.2,1563.1 418.2,1575.1 418.2,1576.6 482.7,1641.1 323.7,1641.1 322.2,1639.6 322.2,1635.1 320.7,1633.6 320.7,1632.1 317.7,1632.1 316.2,1633.6 311.7,1633.6 310.2,1635.1 302.7,1635.1 301.2,1636.6 293.7,1636.6 292.2,1638.1 275.7,1638.1 274.2,1639.6 266.7,1639.6 266.7,1641.1 47.7,1641.1 47.7,1517.7 68.7,1508.7 69.1,1507.6 66.7,1486.6 65.8,1473.1 65.8,1462.6 66.9,1449.1 69.8,1429.6 71.2,1399.6 73.8,1381.6 75.9,1372.6 78.4,1365.1 82.2,1356.7 86,1350.1 91.2,1342.7 98.7,1333.9 106.2,1326.3 110.7,1323.2 113.7,1322.4 115.1,1323.1 115.2,1326.1 110.1,1344.1 106.2,1360.7 100.9,1390.6 99.1,1408.6 99.1,1417.6 99.9,1426.6 102,1435.6 106,1449.1 110.6,1461.1 114.3,1468.6 128.9,1488.1 140.7,1506.7 146.7,1515.2 154.2,1524.2 175.3,1546.6 181.4,1552.6 187.2,1557.1 194.7,1560.8 203.7,1563.3 212.7,1564.6 227.7,1565.2 233.7,1564.6 238,1563.1 240.1,1561.6 241.5,1558.6 241.3,1557.1 240,1555.6 236.6,1554.1 220.2,1549.2 211.2,1545.6 199.2,1539.5 190.1,1533.1 184.1,1527.1 182.1,1524.1 181.1,1521.1 182.7,1517.2 183.7,1516.6 184.2,1515.1 185.7,1513.6 186.1,1510.6 188.7,1509.9 197.7,1510.2 203.7,1509.1 206.7,1509.5 212.7,1511.6 218.7,1515.1 224.6,1519.6 230.2,1525.6 235.2,1528.7 239.7,1530.5 245.7,1532.2 251.8,1533.1 256.2,1533.1 265.2,1531.4 269.7,1532 276.7,1536.1 278.4,1540.6 278.3,1542.1 275.7,1545.1 267,1551.1 265.8,1552.6 268.2,1554.1 283.2,1556.8 290.7,1557.3 296.7,1556.8 307.1,1554.1 318.4,1549.6 326.6,1545.1 334.2,1539.1 345.7,1521.1 356.8,1501.6 360.9,1492.6 363,1485.1 363.5,1479.1 362.3,1468.6 361.9,1455.1 365.6,1434.1 366.3,1414.6 365.4,1402.6 362.7,1392.3 359.7,1385.3 351.3,1369.6 347.1,1353.1 344.7,1347.8 341.1,1344.1 335.7,1340 319.2,1331.4 314.6,1327.6 311.7,1323.1 309.5,1315.6 307.6,1312.6 296.1,1302.1 293.9,1299.1 292.6,1290.1 290.5,1285.6 275.7,1272.9 269.7,1269.5 258.7,1264.6 255,1261.6 248.7,1254.7 245.7,1253 242.7,1252.2 233.7,1251.3 212.7,1252 197.7,1251.6 193.2,1250.2 184.2,1245.2 178.2,1244.5 167.7,1246.8 149.7,1254.3 145.2,1255.2 144.1,1254.1 144.1,1252.6 143,1251.1 142.2,1248.3Z"/>
<path fill="#90ff66" d="M214.2,1219.6 220.2,1218.9 221.7,1218.9 223,1219.6 220.3,1221.1 211.5,1224.1 188.9,1230.1 185.7,1230.1 187.2,1229.8 188.2,1228.6 191.4,1227.1 199.1,1224.1ZM301.7,1230.1 308.7,1229.4 317.7,1229.8 332.7,1231.9 343.2,1234.3 352.9,1237.6 362.7,1241.9 371.2,1246.6 380.2,1252.6 389.7,1260.1 398.7,1268.2 424.2,1293.1 431.7,1301.2 439.2,1310.8 445.2,1319.8 451.2,1330.2 457.2,1342.4 465.3,1363.6 468.6,1375.6 471.5,1389.1 473.2,1401.1 474.3,1414.6 474.1,1437.1 473,1449.1 471.1,1461.1 468.2,1474.6 464,1489.6 455.2,1513.6 449.5,1525.6 443.3,1536.1 432.9,1551.1 421.2,1565.2 401.1,1585.6 389.2,1596.1 377.7,1604.4 364.2,1612 350.7,1617.9 334.2,1623.2 304.2,1630.5 280.2,1633.5 242.7,1634.1 211.2,1631.6 210.1,1632.1 207.7,1641.1 47.7,1641.1 47.7,1531.2 73.2,1518.7 73.5,1518.1 73.5,1515.1 71.4,1504.6 70.2,1494.1 69.3,1465.6 70.5,1453.6 75.3,1432.6 76.5,1411.6 78,1398.1 81.2,1381.6 85.2,1368.9 88.2,1362.8 91.2,1358.2 94.2,1354.8 97.2,1352.9 98.7,1353.2 99.2,1354.6 99.2,1360.6 92.7,1396.6 91.2,1416.1 91.9,1429.6 93.3,1435.6 95.7,1442.4 107.4,1468.6 112.2,1476.4 125.7,1492.3 138.5,1512.1 146.7,1522.9 175.2,1554.7 182.7,1561.4 190.2,1565.6 200.7,1568.7 221.7,1571.6 229.2,1572.1 233.7,1571.8 242.7,1569.3 256.2,1563.1 260.7,1561.9 268.2,1561.5 289.2,1563 298.2,1562.1 307.2,1560 320.2,1555.6 333.2,1549.6 340.4,1545.1 345.9,1539.1 347.6,1536.1 353.5,1521.1 366.3,1497.1 369.3,1489.6 371.1,1483.6 371.4,1476.1 368.9,1464.1 368.4,1458.1 368.8,1453.6 371.4,1441.6 372.6,1431.1 372.9,1413.1 372.3,1402.6 370.7,1395.1 367.7,1386.1 357.2,1363.6 353.5,1345.6 350.9,1339.6 343.1,1330.6 324,1314.1 316.5,1306.6 313.7,1302.1 310.9,1293.1 309.4,1290.1 305.7,1286 296.5,1278.1 282.4,1264.6 278.2,1258.6 273,1248.1 271.8,1243.6 271.9,1242.1 273.5,1240.6 295.2,1231.9ZM204.1,1512.1 206.7,1511.7 209.1,1512.1 215.6,1515.1 219.7,1518.1 227.7,1526.1 241.8,1534.6 243,1536.1 241.1,1542.1 238.2,1543.2 235.2,1543.2 224.7,1542.5 217.2,1541.3 205.8,1537.6 198.2,1533.1 194.2,1528.6 192.4,1524.1 192.2,1522.6 194,1515.1 195,1513.6 196.2,1513.1Z"/>
<path fill="#baff3c" d="M306.7,1234.6 314.7,1233.9 325.2,1234.3 334.2,1235.2 343.2,1237 352.2,1239.8 361.2,1243.6 369.7,1248.1 377.7,1253.4 386.7,1260.4 397.2,1269.6 431.7,1303.6 437.7,1310.9 443.7,1319.6 449.7,1329.9 456,1342.6 460.4,1353.1 464.5,1365.1 469.9,1387.6 471.6,1399.6 472.6,1413.1 472.9,1426.6 472.3,1438.6 471.1,1450.6 468.6,1465.6 465.3,1479.1 462.2,1489.6 453.3,1512.1 447.2,1524.1 441,1534.6 431.7,1547.9 421.2,1560.7 401.3,1581.1 388.2,1593.3 377.7,1601.5 367.2,1607.8 355.2,1613.2 343.2,1617.1 308.7,1625.3 290.7,1628.2 274.2,1629.6 230.7,1630.7 216.5,1629.1 199.2,1625 182.7,1619.4 158.7,1609.7 140.6,1641.1 47.7,1641.1 47.7,1550.1 79.8,1531.6 79.8,1528.6 75.9,1515.1 73.9,1503.1 73.2,1493.3 72.7,1470.1 74.1,1459.6 78,1447.6 82.2,1428.5 83.7,1424.2 89.1,1440.1 94.2,1453 102.7,1470.1 109.2,1480.6 124.2,1498.4 139.5,1521.1 147,1530.1 157.2,1541 168.4,1555.6 173,1560.1 178.9,1564.6 190.2,1570.8 197.7,1573.4 205.2,1574.9 227.7,1576.9 235.2,1577 245.7,1575.4 256.2,1571.5 262.2,1569.9 283.2,1569.2 298.2,1567.2 317.7,1562 328.2,1558 335.7,1554.5 340.2,1552 344.7,1548.5 352.4,1539.1 356.6,1531.6 369.7,1504.6 373.4,1495.6 376,1486.6 376.9,1476.1 375.7,1458.1 379.2,1440.2 380.3,1428.1 380.3,1411.6 379.5,1401.1 377.9,1393.6 375.2,1386.1 364.6,1366.6 362.8,1362.1 361.7,1356.1 361.5,1344.1 360.1,1339.6 357.8,1335.1 349.4,1324.6 331.2,1306.6 320.5,1290.1 307.2,1275.2 292.3,1260.1 284,1248.1 283,1243.6 283.6,1242.1 285.7,1240.6 293.7,1237.6ZM211,1516.6 212.7,1516.6 217.2,1519.7 220.3,1524.1 219.8,1527.1 217.2,1530.6 214.2,1530.7 211.5,1530.1 208,1528.6 206.1,1527.1 205.6,1525.6 206,1524.1 208.2,1519.6Z"/>
<path fill="#e4ff13" d="M303.2,1239.1 311.7,1238.2 326.7,1237.8 334.2,1238.1 341.7,1239.3 350.7,1241.7 358.2,1244.5 365.7,1248.2 374.7,1253.8 385.2,1261.7 395.7,1270.9 433.2,1308 439.2,1315.4 443.7,1322.1 454.2,1341.5 458.7,1351.9 463.2,1364.8 468.3,1386.1 470.1,1398.1 471.1,1411.6 471.4,1425.1 470.9,1438.6 469.7,1450.6 467.7,1463.2 464.8,1476.1 461.7,1486.6 457.3,1498.6 452.7,1509 446.7,1520.5 440.7,1530.4 431.7,1543.3 422.7,1554.2 398.4,1579.6 387.4,1590.1 378.1,1597.6 368.7,1603.7 359.7,1608.1 349.2,1611.8 323.7,1617 304.2,1621.6 287.7,1624.2 275.7,1625.2 236.7,1627.1 223.2,1626.9 206.7,1624.3 187.2,1618.6 169.2,1611.2 139.2,1596.5 137.7,1596.9 104.9,1641.1 47.7,1641.1 47.7,1579.2 91.2,1548.3 80.7,1523.3 78.1,1512.1 76.8,1501.6 76.3,1483.6 76.9,1471.6 77.7,1468.1 82.2,1457.7 83.7,1454.3 85.4,1452.1 86.7,1451.8 88.2,1453.1 91.2,1458 98.7,1473.2 103.2,1480.8 120.5,1503.1 134.7,1525.3 149.8,1545.1 158.4,1554.1 169.4,1563.1 181.2,1570.8 191.7,1576 203.7,1580 214.2,1582 229.2,1583 244.2,1582.4 263.7,1579.5 281.7,1578.3 295.2,1576.2 337.2,1566.8 344.7,1564 347.9,1561.6 356.5,1542.1 374.8,1509.1 378.6,1500.1 380.7,1492.6 381.7,1483.6 381.5,1459.6 384.7,1443.1 386,1431.1 386.1,1414.6 385.2,1402.5 383.7,1393.9 381.1,1384.6 372.5,1362.1 371.6,1353.1 370.2,1347.3 366.5,1338.1 361.9,1329.1 353.7,1317.5 320,1276.6 314.3,1270.6 302.5,1260.1 292.1,1248.1 291.2,1245.1 291.4,1243.6 293.1,1242.1 298.2,1240.2Z"/>
<path fill="#ffde00" d="M305.6,1242.1 311.7,1241.5 331.2,1241.1 341.7,1241.9 349.2,1243.6 355.2,1245.6 367.2,1251.4 382.2,1261.8 398.7,1276.3 430.2,1307.9 437.7,1316.6 442.2,1322.9 452.7,1341.6 460.2,1359.7 464.8,1375.6 468.3,1395.1 469.9,1417.6 469.3,1441.6 466.2,1463.6 461.7,1481.9 457.2,1494.6 451.1,1507.6 440.7,1525 431.7,1537.4 422.7,1547.2 403.5,1564.6 390.1,1581.1 382.9,1588.6 374,1596.1 364.2,1602.1 356.7,1605.1 346.2,1607.9 322.2,1612.1 296.7,1618 278.7,1620.7 239.7,1623.1 223.2,1623.4 211.2,1622.2 196.2,1618.7 184.2,1614.7 173.7,1610.5 143.7,1596.1 131.7,1588.8 119.7,1580.4 110.9,1572.1 101,1558.6 93.5,1546.6 88.3,1536.1 84.4,1525.6 81.7,1515.1 80.4,1504.6 79.8,1491.1 80.7,1482.2 82.2,1479.4 86.7,1473.7 89.7,1471.4 91.2,1471.7 115.2,1506.1 131.7,1533.7 137.7,1541.6 143.7,1548.1 157.5,1560.1 172.8,1570.6 188.7,1579.1 205.5,1585.6 223.2,1589.9 233.7,1590.9 286.2,1588.3 314.7,1583.4 332.7,1582.9 340.2,1581.5 346.2,1579.4 353.7,1575.7 359,1572.1 363.8,1567.6 366,1564.6 367,1561.6 366.4,1560.1 361.2,1556.2 359.9,1554.1 359.6,1551.1 360.2,1548.1 361.9,1543.6 367.2,1533.1 381,1509.1 384.7,1500.1 386.5,1492.6 386,1462.6 389.5,1441.6 390.5,1426.6 390,1408.6 388.2,1393.6 382.2,1367.5 372.4,1339.6 368.3,1323.1 365.7,1316.8 360.9,1309.6 354.3,1302.1 327.5,1275.1 300.5,1249.6 299,1246.6 299.1,1245.1 300.7,1243.6Z"/>
<path fill="#ffae00" d="M311.3,1245.1 337.2,1244.6 344.7,1245.1 351.1,1246.6 358.2,1249.1 370,1255.6 380.5,1263.1 389.5,1270.6 411.3,1291.6 433.8,1315.6 439.2,1322.6 445.2,1331.8 454.2,1348.9 460.2,1364.6 464.7,1382.1 467.4,1401.1 468.3,1423.6 467.3,1444.6 464,1465.6 458.7,1484.9 454.2,1496 448.2,1507.6 439.2,1521.7 431.7,1531.4 424.2,1538.8 408,1551.1 399.7,1558.6 386.7,1572.1 379.7,1582.6 374.4,1588.6 368.7,1593.3 361.2,1597.7 355.2,1599.9 349.2,1601.4 343.2,1602.2 334.2,1602.3 325.2,1603.9 295.2,1611.9 281.7,1614.8 269.7,1616.5 241.2,1619.1 226.2,1619.7 214.2,1618.8 196.2,1615.5 181.8,1611.1 164.2,1603.6 134.7,1588.6 128.1,1584.1 120.6,1578.1 114.4,1572.1 107.7,1564.5 100.2,1554.1 97.2,1548.7 92.2,1537.6 87.2,1524.1 84.9,1513.6 83.6,1503.1 83.7,1494.3 85.2,1490.6 88.2,1488.8 91.2,1488.4 95.7,1489.4 98.7,1492 107.7,1504.2 122.7,1528.6 131.4,1540.6 142.5,1552.6 157.2,1565 170.7,1574.1 185.7,1582 203.7,1588.7 221.7,1593.6 232.2,1595.5 242.7,1596.6 274.2,1596.9 302.7,1594.8 325.2,1592.1 334.2,1590.5 347.7,1586.3 353.7,1583.6 361.2,1579 367.2,1573.7 373.2,1567.3 377.4,1561.6 380.4,1555.6 380.9,1552.6 380.4,1551.1 379.2,1550.6 371.7,1550.6 368.7,1550 367.2,1548.9 366.6,1546.6 367.6,1542.1 369.8,1537.6 380.3,1521.1 385.3,1512.1 388.6,1504.6 390.9,1497.1 391.6,1489.6 389.9,1474.6 389.8,1465.6 393.5,1440.1 394.2,1420.6 393.5,1404.1 391.8,1390.6 387.4,1371.1 379.1,1345.6 378.2,1339.6 378.4,1329.1 377.7,1323.7 376.1,1318.6 373.9,1314.1 369.7,1308.1 364.6,1302.1 355.2,1293.1 329.2,1270.6 317.7,1258.6 309.4,1251.1 307.5,1248.1 307.8,1246.6Z"/>
<path fill="#ff7e00" d="M327.3,1248.1 347.7,1248.8 353.7,1250.1 359.7,1252.4 368,1257.1 376.7,1263.1 385.9,1270.6 395.8,1279.6 423.5,1308.1 433.2,1319.4 440.7,1329.5 448.2,1341.6 454.2,1353.9 458.7,1366 461.8,1377.1 464.3,1390.6 465.9,1404.1 466.6,1417.6 466.4,1432.6 465.3,1446.1 463.3,1459.6 460.2,1473.1 456.9,1483.6 452.7,1493.6 446.7,1504.8 440.7,1513.9 433.2,1523.5 426.3,1530.1 404.7,1547.2 398.7,1551.4 395.7,1552.9 394.2,1552.3 394.6,1543.6 394,1540.6 392.7,1539 389.7,1539 377.7,1543.1 374.7,1542.8 373.9,1540.6 375.6,1536.1 386.3,1519.6 391.3,1510.6 394.9,1501.6 396.3,1494.1 396,1488.1 393.6,1474.6 393.1,1467.1 393.5,1461.1 396,1444.6 396.9,1432.6 397,1417.6 396.3,1401.1 395.2,1390.6 393.3,1380.1 385.7,1351.6 385.3,1347.1 385.6,1333.6 383.7,1322.3 380.4,1312.6 377.6,1308.1 372.6,1302.1 361.3,1291.6 336.7,1272.1 320.5,1254.1 318.8,1251.1 319.2,1249.6 322.2,1248.6ZM89.9,1500.1 92.7,1499.9 95.7,1501.1 101.7,1506.2 106.2,1512 113.7,1524.1 121.2,1534.7 130.2,1545.5 140.7,1556.4 149.7,1564.4 158.7,1571.4 167.7,1577.5 178.2,1583.7 184.2,1586.4 193.2,1589.6 227.7,1598.4 250.2,1601.3 286.2,1602.3 292.2,1603.6 291.8,1605.1 284.7,1608.1 269.7,1611.1 239.7,1612.5 227.7,1614.7 217.2,1614.9 202.5,1612.6 185.4,1608.1 164.7,1600.6 148.8,1593.1 132.7,1584.1 121.9,1576.6 113.7,1568.5 106.2,1558.4 101.7,1550.5 97.2,1540.8 89.8,1519.6 88.2,1512.1 87.7,1506.1 88.2,1501.7Z"/>
<path fill="#ff4e00" d="M332.2,1252.6 338.7,1252.2 346.2,1252.7 353.7,1254 359.7,1256.1 373.2,1264.7 391.2,1280 406,1294.6 421.2,1310.7 430.2,1321.2 439.2,1333.1 445.2,1341.8 449.7,1349.6 454.2,1359.5 458.1,1371.1 461,1383.1 463.2,1395.6 464.5,1408.6 465.1,1422.1 464.7,1434.5 463.4,1447.6 461.7,1458.1 458.7,1470.7 455.7,1480.2 451.2,1490.8 446.7,1499 440.7,1507.8 434.7,1514.7 427.2,1522 416.7,1530.2 412.2,1532.5 409.2,1532.3 401.7,1527.3 400.2,1527 397.2,1527.2 389.7,1529.2 388,1528.6 388.7,1525.6 394.7,1513.6 398.6,1504.6 400.4,1498.6 400.9,1492.6 400.4,1486.6 397,1471.6 396.4,1465.6 399.3,1432.6 399.4,1411.6 398.8,1393.6 397.6,1383.1 393.3,1359.1 391.8,1341.1 388.5,1318.6 386.8,1314.1 384.4,1309.6 375.7,1299.1 367.2,1291.3 348.1,1276.6 341.6,1270.6 330.8,1257.1 330,1254.1ZM94,1512.1 95.7,1511.6 97.2,1512.1 100.2,1514.4 123.6,1543.6 133.4,1554.1 145.2,1565.4 163.2,1580.2 188.7,1597.6 193.1,1602.1 191.7,1603.1 190.2,1603 179.7,1600.6 156.2,1591.6 137.1,1582.6 130,1578.1 122.3,1572.1 113.7,1562.6 109.2,1555.7 106.2,1549.8 98.7,1532.5 94.5,1521.1 93.4,1515.1Z"/>
<path fill="#ff1e00" d="M343.6,1258.6 347.7,1258.2 353.7,1259.3 358.2,1261.1 364.2,1264.6 380.7,1276.7 398.6,1293.1 419.7,1315.8 442.2,1344 449.7,1356.1 455.7,1370.9 460.6,1392.1 462.3,1404.1 463.2,1417.6 463.2,1429.6 462.5,1440.1 461.1,1450.6 458.7,1462.1 452.7,1480.8 448.2,1490 443.7,1497 437.7,1504.2 431.7,1509.8 425.7,1514 419.7,1516.6 415.2,1517.4 410.7,1516.3 407.7,1513.9 406.4,1512.1 405.1,1507.6 404.8,1486.6 401,1470.1 400.1,1462.6 401.8,1434.1 402.4,1389.1 399.1,1354.6 395.9,1336.6 394.8,1324.6 393.4,1318.6 388.8,1306.6 386.3,1302.1 383,1297.6 371.7,1286.6 352.2,1271.7 347.7,1267.7 343,1261.6 342.7,1260.1ZM107.7,1536.1 109.2,1535.2 113.7,1538.9 147.9,1573.6 152.4,1579.6 151.2,1580.3 148.2,1579.9 140.7,1576.8 132.8,1572.1 125.4,1566.1 119.7,1559.7 114.9,1552.6 110.7,1544.8Z"/>
<path fill="#d60000" d="M400.8,1317.1 403.2,1315.7 406.2,1316 410.7,1318.2 415.2,1321.6 419.7,1326 428.6,1336.6 437.7,1346.1 443.7,1353.7 449.7,1363.9 454.2,1375.5 457.2,1386.8 460.2,1404.2 461.3,1423.6 460.4,1440.1 457.2,1457.7 452.7,1472 446.7,1485 439.2,1495.3 434.7,1499.3 431.7,1501.3 425.7,1503.7 421.2,1504.7 418.2,1504.4 415.2,1502.2 410.7,1492.8 405,1465.6 405,1422.1 406.6,1398.1 406.7,1387.6 405.2,1363.6 401.3,1339.6 399.8,1321.6 400,1318.6Z"/>
<path fill="#9b0000" d="M408.2,1330.6 409.2,1329.5 410.7,1329.4 413.7,1330.8 416.7,1333.3 428.7,1346.2 439.2,1356.5 443.7,1362.3 448.2,1370.7 452,1381.6 455.7,1396.6 457.5,1408.6 458.5,1425.1 457.4,1438.6 454.4,1453.6 449.7,1468.3 445.2,1478.7 439.2,1487 433.2,1491.4 428.7,1493.4 425.7,1494.2 422.7,1493.9 420.6,1492.6 418.2,1489.7 414.6,1483.6 412.7,1477.6 410.9,1467.1 409.2,1423.6 412,1387.6 408.9,1347.1 407.6,1336.6 407.7,1332.1Z"/>
<path fill="#800000" d="M421,1353.1 422.7,1352.8 427.2,1356.2 439.2,1367.9 443.4,1374.1 446.7,1382.8 449.7,1393.5 451.8,1404.1 453.1,1416.1 453.4,1426.6 452.5,1437.1 449.7,1450.6 446.7,1459.9 442.2,1470.1 439.4,1474.6 433.2,1480.5 428.7,1482.2 425.7,1481.3 422.7,1478.3 418.5,1471.6 417.7,1467.1 418,1450.6 415.7,1423.6 418.7,1398.1 417.6,1372.6 419.7,1356.1Z"/>
</g>
<circle cx="265.8" cy="1424.2" r="46.7" fill="#fff"/>
<g fill="none" stroke="#b0b0b0" stroke-width="1.6"><circle cx="265.8" cy="1424.2" r="42.8"/><circle cx="265.8" cy="1424.2" r="85.6"/><circle cx="265.8" cy="1424.2" r="128.5"/><circle cx="265.8" cy="1424.2" r="171.3"/><line x1="265.8" y1="1424.2" x2="479.9" y2="1424.2"/><line x1="265.8" y1="1424.2" x2="417.2" y2="1272.8"/><line x1="265.8" y1="1424.2" x2="265.8" y2="1210.1"/><line x1="265.8" y1="1424.2" x2="114.4" y2="1272.8"/><line x1="265.8" y1="1424.2" x2="51.7" y2="1424.2"/><line x1="265.8" y1="1424.2" x2="114.4" y2="1575.6"/><line x1="265.8" y1="1424.2" x2="265.8" y2="1638.3"/><line x1="265.8" y1="1424.2" x2="417.2" y2="1575.6"/></g>
<circle cx="265.8" cy="1424.2" r="214.1" fill="none" stroke="#000" stroke-width="1.5"/>
<g fill="#000"><text transform="translate(244.74,1194.44) scale(1.167,1.040)" font-family="Liberation Sans" font-size="24">90°</text><text transform="translate(69.06,1263.54) scale(1.168,1.040)" font-family="Liberation Sans" font-size="24">135°</text><text transform="translate(411.18,1263.34) scale(1.149,1.040)" font-family="Liberation Sans" font-size="24">45°</text><text transform="translate(0.59,1431.04) scale(1.151,1.040)" font-family="Liberation Sans" font-size="24">180°</text><text transform="translate(488.31,1430.54) scale(1.088,1.040)" font-family="Liberation Sans" font-size="24">0°</text><text transform="translate(516.49,1430.10) scale(1.036,1.040)" font-family="Liberation Sans" font-size="24">Ψ</text><text transform="translate(68.85,1597.24) scale(1.160,1.040)" font-family="Liberation Sans" font-size="24">225°</text><text transform="translate(237.05,1666.34) scale(1.162,1.040)" font-family="Liberation Sans" font-size="24">270°</text><text transform="translate(403.44,1597.24) scale(1.156,1.040)" font-family="Liberation Sans" font-size="24">315°</text><text transform="translate(306.60,1402.84) scale(1.104,1.040)" font-family="Liberation Sans" font-size="24">0.2</text><text transform="translate(346.36,1386.34) scale(1.087,1.040)" font-family="Liberation Sans" font-size="24">0.4</text><text transform="translate(386.10,1369.84) scale(1.104,1.040)" font-family="Liberation Sans" font-size="24">0.6</text><text transform="translate(425.85,1353.34) scale(1.104,1.040)" font-family="Liberation Sans" font-size="24">0.8</text><text transform="translate(464.71,1336.84) scale(1.138,1.040)" font-family="Liberation Sans" font-size="24">1.0</text><text transform="translate(391.25,1397.14) scale(1.101,1.040)" font-family="Liberation Sans" font-size="24">r/R</text></g>
<path d="M544.0,1231.5 L544.0,1230.0 L553.05,1211.4 L562.1,1230.0 L562.1,1231.5Z" fill="#800000"/>
<path d="M544.0,1618.5 L544.0,1620.0 L553.05,1638.6 L562.1,1620.0 L562.1,1618.5Z" fill="#000080"/>
<rect x="544.0" y="1600.50" width="18.1" height="19.80" fill="#00009b"/>
<rect x="544.0" y="1581.00" width="18.1" height="19.80" fill="#0000d6"/>
<rect x="544.0" y="1561.50" width="18.1" height="19.80" fill="#0000ff"/>
<rect x="544.0" y="1542.00" width="18.1" height="19.80" fill="#0030ff"/>
<rect x="544.0" y="1522.50" width="18.1" height="19.80" fill="#0064ff"/>
<rect x="544.0" y="1503.00" width="18.1" height="19.80" fill="#0098ff"/>
<rect x="544.0" y="1483.50" width="18.1" height="19.80" fill="#00ccff"/>
<rect x="544.0" y="1464.00" width="18.1" height="19.80" fill="#13fce4"/>
<rect x="544.0" y="1444.50" width="18.1" height="19.80" fill="#3cffba"/>
<rect x="544.0" y="1425.00" width="18.1" height="19.80" fill="#66ff90"/>
<rect x="544.0" y="1405.50" width="18.1" height="19.80" fill="#90ff66"/>
<rect x="544.0" y="1386.00" width="18.1" height="19.80" fill="#baff3c"/>
<rect x="544.0" y="1366.50" width="18.1" height="19.80" fill="#e4ff13"/>
<rect x="544.0" y="1347.00" width="18.1" height="19.80" fill="#ffde00"/>
<rect x="544.0" y="1327.50" width="18.1" height="19.80" fill="#ffae00"/>
<rect x="544.0" y="1308.00" width="18.1" height="19.80" fill="#ff7e00"/>
<rect x="544.0" y="1288.50" width="18.1" height="19.80" fill="#ff4e00"/>
<rect x="544.0" y="1269.00" width="18.1" height="19.80" fill="#ff1e00"/>
<rect x="544.0" y="1249.50" width="18.1" height="19.80" fill="#d60000"/>
<rect x="544.0" y="1230.00" width="18.1" height="19.80" fill="#9b0000"/>
<path d="M544.0,1230.0 L553.05,1211.4 L562.1,1230.0 L562.1,1620.0 L553.05,1638.6 L544.0,1620.0Z" fill="none" stroke="#000" stroke-width="1.3" stroke-linejoin="round"/>
<line x1="562.1" y1="1230.0" x2="569.1" y2="1230.0" stroke="#000" stroke-width="1.3"/>
<line x1="562.1" y1="1288.5" x2="569.1" y2="1288.5" stroke="#000" stroke-width="1.3"/>
<line x1="562.1" y1="1347.0" x2="569.1" y2="1347.0" stroke="#000" stroke-width="1.3"/>
<line x1="562.1" y1="1405.5" x2="569.1" y2="1405.5" stroke="#000" stroke-width="1.3"/>
<line x1="562.1" y1="1464.0" x2="569.1" y2="1464.0" stroke="#000" stroke-width="1.3"/>
<line x1="562.1" y1="1522.5" x2="569.1" y2="1522.5" stroke="#000" stroke-width="1.3"/>
<line x1="562.1" y1="1581.0" x2="569.1" y2="1581.0" stroke="#000" stroke-width="1.3"/>
<g fill="#000"><text transform="translate(604.92,1238.64) scale(1.178,1.040)" font-family="Liberation Sans" font-size="24">3.0</text><text transform="translate(604.63,1297.40) scale(1.178,1.040)" font-family="Liberation Sans" font-size="24">2.4</text><text transform="translate(605.22,1355.64) scale(1.178,1.040)" font-family="Liberation Sans" font-size="24">1.8</text><text transform="translate(605.22,1414.40) scale(1.178,1.040)" font-family="Liberation Sans" font-size="24">1.2</text><text transform="translate(605.22,1472.64) scale(1.178,1.040)" font-family="Liberation Sans" font-size="24">0.6</text><text transform="translate(604.92,1531.14) scale(1.178,1.040)" font-family="Liberation Sans" font-size="24">0.0</text><text transform="translate(596.01,1589.64) scale(1.195,1.040)" font-family="Liberation Sans" font-size="24">-0.6</text></g>
<g fill="#000"><text transform="translate(581.15,1193.37) scale(0.953,0.929)" font-family="Liberation Sans" font-size="30" font-style="italic">c</text><text transform="translate(596.82,1198.79) scale(1.172,1.084)" font-family="Liberation Sans" font-size="21" font-style="italic">q</text><text transform="translate(633.46,1193.34) scale(1.040,1.026)" font-family="Liberation Sans" font-size="30">10</text><text transform="translate(670.16,1182.70) scale(1.086,1.041)" font-family="Liberation Sans" font-size="21">4</text></g>
<circle cx="622.5" cy="1182.7" r="2.1" fill="#000"/>
<g fill="#000"><text transform="translate(233.08,1711.63) scale(1.294,1.157)" font-family="Liberation Serif" font-size="26" font-weight="bold">(c)</text><text transform="translate(277.26,1711.56) scale(1.073,0.946)" font-family="Liberation Serif" font-size="26">Trade-off hover</text></g>
</svg></body></html>
